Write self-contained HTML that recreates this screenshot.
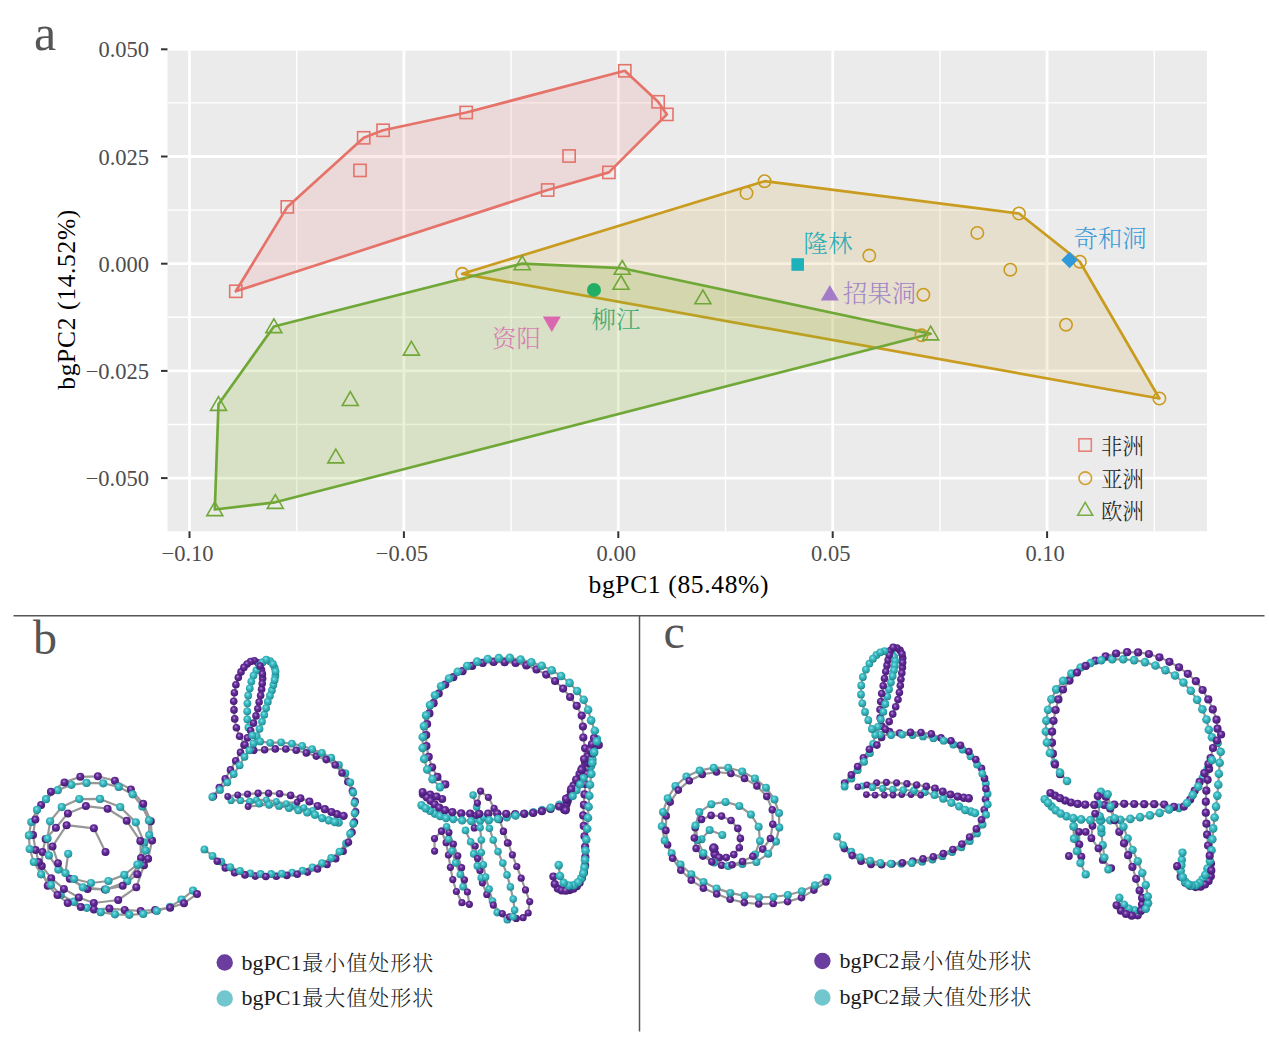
<!DOCTYPE html>
<html><head><meta charset="utf-8"><title>bgPCA</title>
<style>html,body{margin:0;padding:0;background:#fff;}svg{display:block;}</style>
</head><body>
<svg width="1269" height="1041" viewBox="0 0 1269 1041">
<defs>
<clipPath id="pclip"><rect x="167.5" y="50.5" width="1039.5" height="480.8"/></clipPath>
<radialGradient id="gp" cx="0.45" cy="0.4" r="0.6" fx="0.42" fy="0.36"><stop offset="0" stop-color="#B98AD9"/><stop offset="0.4" stop-color="#632C98"/><stop offset="0.85" stop-color="#4F1F80"/><stop offset="1" stop-color="#3E1466"/></radialGradient>
<radialGradient id="gt" cx="0.45" cy="0.4" r="0.6" fx="0.42" fy="0.36"><stop offset="0" stop-color="#86E2E6"/><stop offset="0.4" stop-color="#3BBCC4"/><stop offset="0.85" stop-color="#279BA3"/><stop offset="1" stop-color="#17767E"/></radialGradient>
</defs>
<rect width="1269" height="1041" fill="#fff"/>
<rect x="167.5" y="50.5" width="1039.5" height="480.8" fill="#EBEBEB"/>
<g clip-path="url(#pclip)">
<line x1="296.7" x2="296.7" y1="50.5" y2="531.3" stroke="#fff" stroke-width="1.4"/>
<line x1="511.1" x2="511.1" y1="50.5" y2="531.3" stroke="#fff" stroke-width="1.4"/>
<line x1="725.5" x2="725.5" y1="50.5" y2="531.3" stroke="#fff" stroke-width="1.4"/>
<line x1="939.9" x2="939.9" y1="50.5" y2="531.3" stroke="#fff" stroke-width="1.4"/>
<line x1="1154.3" x2="1154.3" y1="50.5" y2="531.3" stroke="#fff" stroke-width="1.4"/>
<line y1="102.9" y2="102.9" x1="167.5" x2="1207.0" stroke="#fff" stroke-width="1.4"/>
<line y1="210.1" y2="210.1" x1="167.5" x2="1207.0" stroke="#fff" stroke-width="1.4"/>
<line y1="317.3" y2="317.3" x1="167.5" x2="1207.0" stroke="#fff" stroke-width="1.4"/>
<line y1="424.5" y2="424.5" x1="167.5" x2="1207.0" stroke="#fff" stroke-width="1.4"/>
<line x1="189.5" x2="189.5" y1="50.5" y2="531.3" stroke="#fff" stroke-width="2.8"/>
<line x1="403.9" x2="403.9" y1="50.5" y2="531.3" stroke="#fff" stroke-width="2.8"/>
<line x1="618.3" x2="618.3" y1="50.5" y2="531.3" stroke="#fff" stroke-width="2.8"/>
<line x1="832.7" x2="832.7" y1="50.5" y2="531.3" stroke="#fff" stroke-width="2.8"/>
<line x1="1047.1" x2="1047.1" y1="50.5" y2="531.3" stroke="#fff" stroke-width="2.8"/>
<line y1="49.3" y2="49.3" x1="167.5" x2="1207.0" stroke="#fff" stroke-width="2.8"/>
<line y1="156.5" y2="156.5" x1="167.5" x2="1207.0" stroke="#fff" stroke-width="2.8"/>
<line y1="263.7" y2="263.7" x1="167.5" x2="1207.0" stroke="#fff" stroke-width="2.8"/>
<line y1="370.9" y2="370.9" x1="167.5" x2="1207.0" stroke="#fff" stroke-width="2.8"/>
<line y1="478.1" y2="478.1" x1="167.5" x2="1207.0" stroke="#fff" stroke-width="2.8"/>
<polygon points="235.8,291.3 287.3,206.9 363.7,137.8 383.1,130.3 466.2,112.5 624.8,70.8 658.1,101.8 666.9,114.4 608.9,172.4 547.7,190.0" fill="#E5736A" fill-opacity="0.15" stroke="none"/>
<polygon points="235.8,291.3 287.3,206.9 363.7,137.8 383.1,130.3 466.2,112.5 624.8,70.8 658.1,101.8 666.9,114.4 608.9,172.4 547.7,190.0" fill="none" stroke="#E5736A" stroke-width="2.7" stroke-linejoin="round"/>
<polygon points="462.2,273.8 764.6,181.2 1019.0,213.5 1079.9,261.7 1159.4,398.5" fill="#C99C1F" fill-opacity="0.15" stroke="none"/>
<polygon points="462.2,273.8 764.6,181.2 1019.0,213.5 1079.9,261.7 1159.4,398.5" fill="none" stroke="#C99C1F" stroke-width="2.7" stroke-linejoin="round"/>
<polygon points="214.8,509.5 218.5,404.3 273.9,326.5 522.2,263.6 622.2,268.2 930.7,333.8 275.3,502.3" fill="#8CB42D" fill-opacity="0.2" stroke="none"/>
<polygon points="214.8,509.5 218.5,404.3 273.9,326.5 522.2,263.6 622.2,268.2 930.7,333.8 275.3,502.3" fill="none" stroke="#70A838" stroke-width="2.7" stroke-linejoin="round"/>
<rect x="229.7" y="285.2" width="12.2" height="12.2" fill="none" stroke="#E5736A" stroke-width="1.6"/>
<rect x="281.2" y="200.8" width="12.2" height="12.2" fill="none" stroke="#E5736A" stroke-width="1.6"/>
<rect x="357.6" y="131.7" width="12.2" height="12.2" fill="none" stroke="#E5736A" stroke-width="1.6"/>
<rect x="377.0" y="124.2" width="12.2" height="12.2" fill="none" stroke="#E5736A" stroke-width="1.6"/>
<rect x="353.9" y="164.3" width="12.2" height="12.2" fill="none" stroke="#E5736A" stroke-width="1.6"/>
<rect x="460.1" y="106.4" width="12.2" height="12.2" fill="none" stroke="#E5736A" stroke-width="1.6"/>
<rect x="618.7" y="64.7" width="12.2" height="12.2" fill="none" stroke="#E5736A" stroke-width="1.6"/>
<rect x="652.0" y="95.7" width="12.2" height="12.2" fill="none" stroke="#E5736A" stroke-width="1.6"/>
<rect x="660.8" y="108.3" width="12.2" height="12.2" fill="none" stroke="#E5736A" stroke-width="1.6"/>
<rect x="563.0" y="149.9" width="12.2" height="12.2" fill="none" stroke="#E5736A" stroke-width="1.6"/>
<rect x="602.8" y="166.3" width="12.2" height="12.2" fill="none" stroke="#E5736A" stroke-width="1.6"/>
<rect x="541.6" y="183.9" width="12.2" height="12.2" fill="none" stroke="#E5736A" stroke-width="1.6"/>
<circle cx="462.2" cy="273.8" r="6.2" fill="none" stroke="#C99C1F" stroke-width="1.6"/>
<circle cx="746.5" cy="193.1" r="6.2" fill="none" stroke="#C99C1F" stroke-width="1.6"/>
<circle cx="764.6" cy="181.2" r="6.2" fill="none" stroke="#C99C1F" stroke-width="1.6"/>
<circle cx="869.3" cy="255.6" r="6.2" fill="none" stroke="#C99C1F" stroke-width="1.6"/>
<circle cx="977.3" cy="232.9" r="6.2" fill="none" stroke="#C99C1F" stroke-width="1.6"/>
<circle cx="1019.0" cy="213.5" r="6.2" fill="none" stroke="#C99C1F" stroke-width="1.6"/>
<circle cx="1010.3" cy="269.7" r="6.2" fill="none" stroke="#C99C1F" stroke-width="1.6"/>
<circle cx="1079.9" cy="261.7" r="6.2" fill="none" stroke="#C99C1F" stroke-width="1.6"/>
<circle cx="1066.0" cy="324.7" r="6.2" fill="none" stroke="#C99C1F" stroke-width="1.6"/>
<circle cx="1159.4" cy="398.5" r="6.2" fill="none" stroke="#C99C1F" stroke-width="1.6"/>
<circle cx="923.4" cy="294.7" r="6.2" fill="none" stroke="#C99C1F" stroke-width="1.6"/>
<circle cx="921.5" cy="335.3" r="6.2" fill="none" stroke="#C99C1F" stroke-width="1.6"/>
<polygon points="214.8,501.8 222.8,515.6 206.8,515.6" fill="none" stroke="#70A838" stroke-width="1.6" stroke-linejoin="miter"/>
<polygon points="218.5,396.6 226.5,410.4 210.5,410.4" fill="none" stroke="#70A838" stroke-width="1.6" stroke-linejoin="miter"/>
<polygon points="273.9,318.8 281.9,332.6 265.9,332.6" fill="none" stroke="#70A838" stroke-width="1.6" stroke-linejoin="miter"/>
<polygon points="522.2,255.9 530.2,269.7 514.2,269.7" fill="none" stroke="#70A838" stroke-width="1.6" stroke-linejoin="miter"/>
<polygon points="622.2,260.5 630.2,274.3 614.2,274.3" fill="none" stroke="#70A838" stroke-width="1.6" stroke-linejoin="miter"/>
<polygon points="621.0,275.5 629.0,289.3 613.0,289.3" fill="none" stroke="#70A838" stroke-width="1.6" stroke-linejoin="miter"/>
<polygon points="702.9,290.0 710.9,303.8 694.9,303.8" fill="none" stroke="#70A838" stroke-width="1.6" stroke-linejoin="miter"/>
<polygon points="930.7,326.1 938.7,339.9 922.7,339.9" fill="none" stroke="#70A838" stroke-width="1.6" stroke-linejoin="miter"/>
<polygon points="275.3,494.6 283.3,508.4 267.3,508.4" fill="none" stroke="#70A838" stroke-width="1.6" stroke-linejoin="miter"/>
<polygon points="411.4,341.3 419.4,355.1 403.4,355.1" fill="none" stroke="#70A838" stroke-width="1.6" stroke-linejoin="miter"/>
<polygon points="350.3,391.7 358.3,405.5 342.3,405.5" fill="none" stroke="#70A838" stroke-width="1.6" stroke-linejoin="miter"/>
<polygon points="335.8,449.1 343.8,462.9 327.8,462.9" fill="none" stroke="#70A838" stroke-width="1.6" stroke-linejoin="miter"/>
<rect x="791.4" y="258.2" width="12.6" height="12.6" fill="#1DB1BA"/>
<polygon points="829.8,284.9 838.8,300.5 820.8,300.5" fill="#A47BC9"/>
<polygon points="1069.6,251.8 1077.8,260.0 1069.6,268.2 1061.4,260.0" fill="#2F99D9"/>
<circle cx="594" cy="289.9" r="7" fill="#22AE64"/>
<polygon points="551.8,332.0 560.8,316.4 542.8,316.4" fill="#DA68AE"/>
</g>
<text x="803.5" y="251.5" font-family="Liberation Serif, Noto Serif CJK SC, serif" font-weight="300" font-size="24.4" fill="#2AADB6">隆林</text>
<text x="843" y="301.5" font-family="Liberation Serif, Noto Serif CJK SC, serif" font-weight="300" font-size="24.4" fill="#A384C6">招果洞</text>
<text x="1073.5" y="246.5" font-family="Liberation Serif, Noto Serif CJK SC, serif" font-weight="300" font-size="24.4" fill="#3A9BD8">奇和洞</text>
<text x="591.5" y="328" font-family="Liberation Serif, Noto Serif CJK SC, serif" font-weight="300" font-size="24.4" fill="#3DAA72">柳江</text>
<text x="492" y="347" font-family="Liberation Serif, Noto Serif CJK SC, serif" font-weight="300" font-size="24.4" fill="#D77DB4">资阳</text>
<rect x="1078.9" y="438.8" width="12.4" height="12.4" fill="none" stroke="#E8807A" stroke-width="1.6"/>
<circle cx="1085.3" cy="478.2" r="6.3" fill="none" stroke="#D4A035" stroke-width="1.6"/>
<polygon points="1085.2,502.3 1092.7,515.3 1077.7,515.3" fill="none" stroke="#79AE45" stroke-width="1.6" stroke-linejoin="miter"/>
<text x="1101" y="453.5" font-family="Liberation Serif, Noto Serif CJK SC, serif" font-weight="300" font-size="21.4" fill="#222">非洲</text>
<text x="1101" y="486.5" font-family="Liberation Serif, Noto Serif CJK SC, serif" font-weight="300" font-size="21.4" fill="#222">亚洲</text>
<text x="1101" y="518.5" font-family="Liberation Serif, Noto Serif CJK SC, serif" font-weight="300" font-size="21.4" fill="#222">欧洲</text>
<line x1="161" x2="167.5" y1="49.3" y2="49.3" stroke="#333" stroke-width="2"/>
<line x1="161" x2="167.5" y1="156.5" y2="156.5" stroke="#333" stroke-width="2"/>
<line x1="161" x2="167.5" y1="263.7" y2="263.7" stroke="#333" stroke-width="2"/>
<line x1="161" x2="167.5" y1="370.9" y2="370.9" stroke="#333" stroke-width="2"/>
<line x1="161" x2="167.5" y1="478.1" y2="478.1" stroke="#333" stroke-width="2"/>
<line y1="531.3" y2="538" x1="189.5" x2="189.5" stroke="#333" stroke-width="2"/>
<line y1="531.3" y2="538" x1="403.9" x2="403.9" stroke="#333" stroke-width="2"/>
<line y1="531.3" y2="538" x1="618.3" x2="618.3" stroke="#333" stroke-width="2"/>
<line y1="531.3" y2="538" x1="832.7" x2="832.7" stroke="#333" stroke-width="2"/>
<line y1="531.3" y2="538" x1="1047.1" x2="1047.1" stroke="#333" stroke-width="2"/>
<text x="149" y="57.3" font-family="Liberation Serif, serif" fill="#4D4D4D" font-size="22.5" text-anchor="end">0.050</text>
<text x="149" y="164.5" font-family="Liberation Serif, serif" fill="#4D4D4D" font-size="22.5" text-anchor="end">0.025</text>
<text x="149" y="271.7" font-family="Liberation Serif, serif" fill="#4D4D4D" font-size="22.5" text-anchor="end">0.000</text>
<text x="149" y="378.9" font-family="Liberation Serif, serif" fill="#4D4D4D" font-size="22.5" text-anchor="end">−0.025</text>
<text x="149" y="486.1" font-family="Liberation Serif, serif" fill="#4D4D4D" font-size="22.5" text-anchor="end">−0.050</text>
<text x="187.5" y="561" font-family="Liberation Serif, serif" fill="#4D4D4D" font-size="22.5" text-anchor="middle">−0.10</text>
<text x="401.9" y="561" font-family="Liberation Serif, serif" fill="#4D4D4D" font-size="22.5" text-anchor="middle">−0.05</text>
<text x="616.3" y="561" font-family="Liberation Serif, serif" fill="#4D4D4D" font-size="22.5" text-anchor="middle">0.00</text>
<text x="830.7" y="561" font-family="Liberation Serif, serif" fill="#4D4D4D" font-size="22.5" text-anchor="middle">0.05</text>
<text x="1045.1" y="561" font-family="Liberation Serif, serif" fill="#4D4D4D" font-size="22.5" text-anchor="middle">0.10</text>
<text x="588.5" y="593" font-family="Liberation Serif, serif" font-size="25.5" fill="#000" textLength="180" lengthAdjust="spacing">bgPC1 (85.48%)</text>
<text transform="translate(75.3,389.7) rotate(-90)" x="0" y="0" font-family="Liberation Serif, serif" font-size="25.5" fill="#000" textLength="180" lengthAdjust="spacing">bgPC2 (14.52%)</text>
<text x="34" y="49.5" font-family="Liberation Serif, serif" font-size="50" fill="#555">a</text>
<line x1="13.5" y1="615.8" x2="1264.5" y2="615.8" stroke="#555" stroke-width="1.5"/>
<line x1="639.5" y1="615.8" x2="639.5" y2="1031.5" stroke="#555" stroke-width="1.5"/>
<text x="33" y="653.5" font-family="Liberation Serif, serif" font-size="48" fill="#555">b</text>
<text x="663.5" y="647.5" font-family="Liberation Serif, serif" font-size="48" fill="#555">c</text>
<g fill="none" stroke="#979797" stroke-width="2.2" stroke-linejoin="round">
<polyline points="193.0,890.6 181.5,899.6 170.1,906.9 156.7,911.0 143.2,914.0 129.3,914.8 114.9,914.3 100.7,912.2 86.8,907.8 73.8,901.7 60.7,894.7 50.9,884.9 41.1,874.3 33.8,862.0 29.7,849.0 28.9,835.4 31.3,822.0 37.0,809.8 46.0,799.2 57.8,790.2 71.3,784.8 86.5,782.9 103.2,783.3 118.7,786.9 132.6,794.3 142.3,806.5 148.9,820.4 149.2,835.1 145.6,850.6 139.1,864.5 127.2,881.2 106.0,889.6 82.8,887.3 58.3,869.6 48.9,855.4 47.5,838.5 50.1,821.3 61.7,807.1 79.3,799.1 100.0,798.9 120.2,807.1 135.8,822.3 144.0,842.4 137.4,864.5 124.3,874.9 108.4,881.0 91.0,883.0 74.1,879.0 65.4,873.1 68.2,853.8"/>
<polyline points="197.0,893.9 184.0,903.3 170.1,907.8 155.1,909.9 140.7,911.0 124.7,909.9 109.4,908.6 93.9,909.4 80.8,907.0 67.7,903.0 57.5,895.0 47.7,885.7 38.7,862.0 35.6,850.1 33.0,835.1 35.4,819.6 41.1,804.9 50.9,791.8 64.5,782.4 80.3,776.8 97.9,776.3 114.9,780.7 130.9,789.4 143.2,803.8 150.8,821.2 152.1,840.5 148.1,858.8 144.0,865.3 136.3,887.3 118.2,900.0 93.8,903.0 78.8,897.5 63.9,888.9 51.2,878.2 41.8,866.0 42.5,852.0 45.6,838.9 55.9,827.8 67.9,813.4 85.9,806.1 107.6,808.7 126.7,820.8 140.3,840.9 141.0,858.0 137.3,874.2 122.7,885.8 105.0,889.5 87.5,889.0 69.8,878.8 58.0,863.2 52.5,846.4 66.6,825.2 93.9,828.3 105.5,852.0"/>
<polyline points="212.3,797.0 220.0,789.9 227.3,782.3 233.7,774.0 239.6,765.3 244.5,756.8 249.3,750.3 253.4,743.5 256.7,736.2 259.5,728.8 262.0,721.6 264.2,714.7 266.1,708.1 267.8,701.7 269.9,695.7 271.9,690.2 273.4,684.8 274.6,680.0 275.4,675.7 275.5,671.5 274.6,667.6 272.9,664.0 270.1,661.2 266.3,659.6 262.6,662.2 259.4,665.9 256.4,670.3 253.5,675.6 251.3,681.6 249.8,688.3 248.2,695.5 247.4,703.3 247.2,711.3 247.3,719.3 248.4,727.5 252.4,735.4 260.1,741.4 270.2,742.8 281.1,742.3 291.9,743.6 302.1,745.9 312.1,749.2 321.9,752.9 331.2,757.7 338.9,764.8 345.4,773.1 350.3,782.3 353.2,792.4 354.5,802.8 354.6,813.3 353.2,823.7 350.1,833.7 346.0,843.4 339.5,851.6 331.2,858.0 322.0,863.2 312.5,867.4 302.5,870.6 292.2,872.7 281.7,873.7 271.2,874.0 260.7,874.0 250.3,873.3 240.0,870.9 230.3,867.1 221.3,861.6 212.5,855.9 204.4,849.4"/>
<polyline points="213.4,796.3 219.3,787.6 225.2,778.9 230.5,769.9 235.7,760.8 240.5,752.4 244.0,745.1 247.4,737.9 250.6,730.5 253.5,723.1 256.0,715.9 257.8,708.8 259.1,702.0 260.6,695.5 261.6,689.3 262.2,683.5 262.6,678.5 262.4,673.9 261.5,669.7 260.1,666.0 257.9,662.7 254.4,660.7 250.6,661.5 247.1,664.0 243.9,667.4 241.0,671.9 238.3,677.6 235.9,684.7 234.4,692.7 233.7,701.2 234.0,709.9 234.7,718.9 236.4,727.7 239.6,736.3 245.0,744.7 253.7,750.2 264.6,749.8 275.3,748.9 285.8,749.0 296.2,750.3 306.3,752.9 316.3,756.1 326.2,759.6 335.2,765.0 342.0,773.0 347.8,781.7 352.4,791.1 355.1,801.3 355.6,811.7 354.4,822.1 352.0,832.3 348.4,842.2 343.1,851.2 335.7,858.7 327.0,864.5 317.5,869.0 307.5,872.1 297.2,874.2 286.8,875.4 276.3,876.3 265.8,876.5 255.3,876.1 244.9,874.9 234.6,872.7 225.3,867.9 217.3,861.2"/>
<polyline points="256.4,799.9 266.3,799.9 276.3,801.5 286.2,803.7 295.0,805.4 303.8,807.6 312.7,810.3"/>
<polyline points="248.1,806.5 297.2,802.1"/>
<polyline points="227.7,796.5 237.7,794.9 247.6,794.1 258.1,793.2 268.5,793.2 279.6,793.8 290.6,795.4 300.5,798.2 309.4,801.5 317.6,805.9 324.8,809.2 331.4,812.0 337.0,814.2 343.6,815.9"/>
<polyline points="231.0,800.4 240.4,800.4 249.8,801.5 259.2,803.7 269.1,804.8 279.0,805.9 289.0,808.1 298.3,810.3 307.2,812.5 314.9,814.8 322.1,818.1 328.7,820.3 334.7,821.9 338.6,822.5"/>
<polyline points="445.3,784.4 437.4,776.9 432.1,767.3 428.7,756.8 426.4,746.1 426.2,735.1 427.1,724.1 429.4,713.4 433.6,703.2 438.7,693.5 445.2,684.6 453.3,677.2 462.5,671.2 472.1,665.9 482.7,662.9 493.6,661.9 504.6,662.2 515.6,663.0 526.3,665.4 536.5,669.4 546.2,674.6 555.1,681.0 563.1,688.6 570.1,697.0 576.7,705.8 581.7,715.6 582.9,726.5 583.3,737.5 585.1,748.3 584.1,759.1 581.3,769.8 576.3,779.5 571.1,789.2 566.0,798.9 564.2,809.7"/>
<polyline points="598.8,745.1 592.5,753.5 588.8,763.3 586.9,773.6 585.4,784.0 584.5,794.4 583.9,804.9 583.2,815.4 583.8,825.9 584.5,836.3 585.1,846.8 585.3,857.2 585.1,865.6 583.9,872.6 581.9,878.1 579.6,882.7 576.8,886.2 573.4,888.7 569.7,890.1 565.7,890.7 561.7,890.4 557.8,888.6 554.7,884.0 553.4,876.6"/>
<polyline points="440.0,787.1 432.5,779.1 427.2,769.5 424.2,758.9 422.6,748.0 422.7,737.0 423.9,726.1 426.1,715.4 430.0,705.1 435.0,695.3 441.1,686.2 449.0,678.5 457.7,671.8 467.1,666.0 477.1,661.6 487.8,659.0 498.8,658.1 509.8,657.9 520.6,659.5 531.3,662.2 541.7,665.7 551.7,670.3 561.1,676.0 569.6,682.9 577.1,691.0 583.7,699.8 588.1,709.8 591.1,720.4 594.8,730.7 596.8,741.4 594.2,752.1 592.3,762.9 591.3,773.9 590.0,784.8 589.3,795.8 588.6,806.7 588.0,817.7 587.2,828.7 586.3,839.6 585.5,850.6 585.0,859.9 584.4,867.4 583.3,873.4 581.2,878.4 578.1,882.3 574.0,885.1 568.9,885.6 563.7,882.8 560.0,876.0 558.7,865.1"/>
<polyline points="594.0,738.0 592.0,744.2 590.0,750.4 587.6,756.4 585.1,762.4 582.4,768.3 579.5,774.1 576.5,779.9 573.5,785.7 570.8,791.6 568.4,797.6 566.6,803.9 565.6,810.3"/>
<polyline points="597.0,739.0 595.5,745.8 594.0,752.7 592.5,759.5 590.9,766.3 587.6,772.4 583.5,778.1 580.2,784.3 576.5,790.2 572.7,796.1"/>
<polyline points="422.6,792.0 430.2,794.5 436.5,796.4 442.2,798.9"/>
<polyline points="567.6,801.4 559.3,804.8 550.7,807.6 542.1,810.0 533.3,812.3 524.5,813.8 515.6,815.6 506.8,817.3 498.0,819.0 489.1,820.1 480.1,820.7 471.1,821.0 462.1,820.4 453.2,819.1 446.0,818.1 440.0,816.0 434.7,813.5 430.0,810.8 425.6,808.2 421.5,805.3"/>
<polyline points="567.6,800.2 565.8,809.0 559.2,806.5 550.6,808.9 541.9,811.2 533.1,813.0 524.1,813.8 515.2,814.0 506.2,813.8 497.2,813.4 488.2,813.7 479.2,813.8 470.2,813.7 461.2,813.4 452.3,812.2 445.0,810.2 439.2,807.7 434.6,804.4 430.6,800.8 426.9,797.4 423.0,794.3"/>
<polyline points="474.3,827.9 475.7,815.5 477.4,803.1 480.6,791.1 488.4,797.3 494.1,808.3 499.6,819.6 503.5,831.4 508.2,843.0 512.4,854.8 516.8,866.5 521.2,878.2 525.5,889.9 529.7,901.6 528.2,913.0 523.1,917.7 516.3,918.4 509.5,916.8 502.3,913.6 493.3,905.1 486.8,894.4 482.4,882.8 479.9,870.5 477.6,858.3 475.2,846.0"/>
<polyline points="473.1,795.1 476.6,806.9 483.6,817.2 489.4,828.2 493.2,840.0 498.0,851.6 502.8,863.1 507.0,874.9 510.4,886.9 513.2,899.1 514.6,910.1 513.1,916.8 507.3,919.7 497.2,912.6 492.5,901.1 489.1,889.1 485.6,877.1 483.3,864.8 481.2,852.5 481.3,840.0 480.1,827.6"/>
<polyline points="441.5,831.1 434.5,838.6 434.6,851.1"/>
<polyline points="441.5,831.1 446.1,842.7 448.4,855.0 450.4,867.3 452.8,879.6 456.4,891.5 461.9,902.7 469.4,904.3 467.4,892.0 464.5,879.8 461.6,867.7 457.8,855.8 453.4,844.1 448.9,832.4"/>
<polyline points="446.6,826.7 448.5,839.1 452.0,851.0 455.6,862.9 460.3,874.5 463.0,886.7"/>
<polyline points="465.5,830.4 470.6,841.8 473.7,853.9 477.3,865.9 481.2,877.7"/>
<polyline points="503.3,831.1 507.4,842.9"/>
<polyline points="827.4,877.8 814.9,885.2 801.8,891.3 787.8,895.0 773.4,896.9 758.9,897.2 744.5,895.8 730.3,892.9 716.5,888.4 703.5,882.0 691.3,874.2 680.5,864.5 671.6,853.2 664.7,840.4 661.8,826.3 663.0,811.9 667.7,798.2 675.4,786.0 686.4,776.6 699.6,770.6 713.7,767.7 728.2,767.8 742.2,771.5 754.9,778.4 766.0,787.7 774.5,799.4 779.0,813.1 779.3,827.5 776.0,841.6 768.2,853.8 756.4,862.0 742.4,864.0 728.1,866.1 714.1,862.6 703.4,853.1 697.5,839.9 695.5,825.6 699.3,812.1 711.3,804.2 725.5,801.9 739.3,805.9 750.9,814.5 758.6,826.7 760.0,841.0 755.0,854.5"/>
<polyline points="701.5,839.2 709.6,830.0 722.3,835.0"/>
<polyline points="825.9,882.0 813.9,890.1 801.5,897.6 787.6,901.6 773.2,903.5 758.7,904.0 744.3,902.6 730.2,899.2 716.7,894.0 703.4,888.2 691.3,880.3 680.8,870.3 672.6,858.3 667.6,844.8 665.9,830.4 666.2,815.9 670.2,802.1 678.3,790.1 689.3,780.7 702.3,774.4 716.5,772.0 730.9,773.5 744.5,778.4 756.9,785.9 766.8,796.4 772.3,809.8 772.8,824.2 770.4,838.5 762.8,849.1 752.8,856.3 742.5,861.5 732.1,864.8 721.6,865.2 711.8,861.8 702.9,856.1 696.1,848.4 694.3,838.0 695.2,827.7 701.5,819.4 711.1,815.4 721.5,816.1 731.0,820.5 737.8,828.4 740.4,838.4 739.3,847.8 733.8,854.6 726.2,857.6 719.1,857.6 714.9,854.1 713.8,848.2"/>
<polyline points="844.6,786.5 851.4,778.5 857.7,770.1 864.1,761.8 870.0,753.1 873.1,743.8 875.2,734.8 877.9,726.8 880.8,719.4 883.3,711.8 885.3,704.0 887.2,696.4 889.0,689.2 890.9,682.3 892.6,676.0 893.9,670.3 894.7,665.4 895.2,661.0 894.2,657.0 891.8,653.8 888.4,651.7 884.5,651.1 880.3,652.3 876.4,655.0 872.9,658.7 869.4,663.6 865.9,669.6 862.9,677.0 861.2,685.4 861.0,694.4 862.3,703.3 865.0,711.9 868.3,720.2 871.9,729.0 880.2,734.6 891.1,735.1 902.1,734.6 912.6,735.1 923.0,736.4 933.4,738.2 943.6,740.7 953.3,744.5 962.5,749.6 970.5,756.3 977.1,764.5 982.3,773.6 985.8,783.5 987.6,793.8 987.7,804.3 986.1,814.7 982.6,824.5 977.0,833.4 969.8,841.1 961.4,847.3 952.1,852.1 942.4,856.2 932.5,859.5 922.2,861.7 911.8,863.1 901.3,863.7 890.8,863.7 880.4,862.8 870.1,860.7 860.2,857.2 851.3,851.7 843.1,845.1 837.1,836.5"/>
<polyline points="844.6,783.0 851.3,774.9 857.6,766.5 863.4,757.7 869.4,749.2 876.9,745.1 881.6,737.5 885.4,729.3 889.2,721.6 892.7,714.1 895.7,706.8 898.0,699.6 899.4,692.5 900.3,685.6 900.9,679.2 901.8,673.0 902.4,667.5 902.6,662.6 902.7,658.0 902.0,653.9 900.1,650.4 897.0,648.0 893.1,647.4 890.5,650.6 889.2,655.1 888.1,660.0 887.0,665.4 885.8,671.6 884.5,678.5 883.2,685.8 881.7,693.6 880.7,701.5 880.0,709.5 880.1,717.7 882.0,726.3 889.5,731.6 899.7,733.1 910.5,732.4 921.0,732.5 931.3,733.9 941.0,737.9 951.0,740.8 960.5,745.3 968.9,751.6 975.8,759.6 981.5,768.3 984.5,778.4 985.9,788.8 985.5,799.2 984.2,809.7 981.4,819.8 976.3,828.9 969.6,837.0 961.9,844.1 952.9,849.5 943.3,853.6 933.3,856.8 923.0,858.9 912.7,861.1 902.4,862.8 891.9,863.9 881.5,864.8 871.0,864.4 861.0,861.2 852.2,855.6 844.4,848.6"/>
<polyline points="866.4,794.6 875.1,795.1 884.3,795.1 893.0,795.1 901.7,794.6 911.0,794.6 920.7,795.1"/>
<polyline points="857.7,786.9 866.9,784.9 876.6,782.8 886.4,782.3 896.6,782.8 906.9,783.8 916.6,784.9 926.3,786.4 935.0,788.4 942.7,791.5 950.4,794.6 957.6,796.6 963.7,797.7 968.8,798.2"/>
<polyline points="862.3,785.9 872.5,787.4 882.8,788.4 893.0,789.5 903.3,790.0 914.0,790.5 924.8,792.0 934.5,795.1 943.2,798.7 951.4,802.8 959.1,806.4 965.2,810.0 970.9,811.5 975.0,813.0"/>
<polyline points="1067.0,781.0 1060.0,772.6 1054.5,763.0 1049.9,753.0 1046.9,742.5 1045.8,731.5 1046.3,720.6 1048.1,709.7 1051.4,699.2 1056.2,689.4 1063.1,680.8 1071.4,673.6 1080.6,667.5 1090.6,663.0 1101.2,660.3 1112.2,659.3 1123.2,659.3 1134.1,660.1 1145.0,662.1 1155.4,665.5 1165.4,670.1 1175.0,675.5 1183.4,682.5 1190.8,690.7 1197.1,699.7 1202.4,709.3 1206.5,719.5 1208.8,729.8 1211.9,737.2 1217.7,742.7 1220.7,751.8 1219.7,762.7 1218.9,773.7 1218.3,784.7 1217.3,795.6 1216.0,806.6 1214.6,817.5 1213.2,828.4 1212.3,839.3 1211.5,850.3 1209.9,861.0 1207.5,868.6 1205.3,874.7 1202.6,879.4 1199.5,882.8 1196.0,885.1 1192.1,885.8 1188.4,884.4 1185.1,881.6 1182.6,877.3 1180.7,870.7 1181.8,859.8"/>
<polyline points="1060.1,774.2 1055.0,764.4 1052.9,753.7 1052.0,742.7 1052.1,731.7 1053.5,720.8 1055.6,710.0 1058.4,699.4 1063.0,689.5 1069.5,680.6 1077.0,672.5 1085.7,665.9 1095.4,660.7 1105.6,656.4 1116.1,653.5 1127.1,652.2 1138.1,652.4 1148.9,654.0 1159.4,657.3 1169.4,661.8 1179.0,667.3 1187.8,673.8 1195.9,681.2 1202.6,690.0 1208.3,699.4 1212.8,709.4 1216.5,719.7 1217.5,728.7 1221.1,734.5 1216.9,740.5 1213.0,748.0 1210.6,758.0 1209.1,768.9 1207.6,779.8 1206.3,790.7 1205.8,801.7 1205.8,812.7 1206.4,823.7 1207.1,834.7 1208.1,845.6 1209.7,855.7 1211.0,863.5 1211.3,870.4 1210.8,876.3 1208.6,881.1 1205.0,884.5 1200.6,886.7 1195.6,887.1 1190.4,886.0 1185.3,882.7 1180.6,876.7 1177.5,866.7"/>
<polyline points="1208.4,764.0 1204.3,773.1 1199.6,781.9 1194.7,790.7 1190.2,799.6 1183.9,806.6 1173.9,806.8 1164.2,804.6 1154.2,804.2 1144.2,804.2 1134.2,804.0 1124.2,803.8 1114.3,804.5 1104.3,805.0 1094.3,804.9 1085.2,804.7 1077.6,803.9 1070.9,802.5 1065.1,800.6 1059.9,798.2 1055.0,795.6 1050.4,793.0"/>
<polyline points="1212.0,760.0 1207.6,769.0 1202.8,777.8 1198.2,786.6 1192.7,794.9 1186.9,803.0 1178.9,807.9 1169.0,809.4 1159.6,812.9 1149.9,815.4 1140.1,817.1 1130.3,818.9 1120.3,819.9 1110.3,820.3 1100.3,820.4 1090.3,820.1 1081.1,819.4 1073.3,818.1 1066.4,816.2 1060.6,813.5 1055.7,810.3 1051.7,806.5 1048.1,802.9 1044.7,799.3"/>
<polyline points="1101.2,828.4 1099.7,816.2 1098.4,804.0 1100.9,791.7 1107.7,794.3 1110.5,806.5 1114.6,818.1 1123.5,826.7 1127.7,838.4 1132.6,849.9 1137.8,861.3 1142.3,873.0 1145.8,885.0 1147.8,896.5 1148.1,903.3 1145.9,908.8 1140.7,911.1 1134.7,910.2 1129.0,908.6 1124.1,904.6 1119.3,897.8"/>
<polyline points="1097.8,796.1 1105.8,796.8 1110.2,808.5 1114.6,820.2 1119.3,831.8 1124.0,843.3 1128.1,855.2 1132.4,866.9 1136.1,878.8 1139.6,890.5 1142.1,897.9 1142.0,904.5 1141.0,910.7 1137.7,915.3 1131.7,915.7 1126.0,914.0 1120.9,910.7 1116.6,905.3"/>
<polyline points="1073.6,826.4 1073.9,838.7"/>
<polyline points="1073.6,826.4 1075.1,838.8 1076.8,851.2 1080.4,863.1 1085.7,874.4"/>
<polyline points="1079.0,831.8 1079.4,844.3 1081.4,856.6"/>
<polyline points="1101.2,820.3 1101.5,832.8 1102.7,845.2 1104.4,857.6 1108.3,869.5"/>
<polyline points="1095.1,813.6 1092.5,825.8 1091.4,838.2 1098.4,848.3 1102.8,859.9 1111.2,868.1"/>
<polyline points="1182.5,852.6 1181.5,865.1 1182.8,877.3 1191.6,885.7"/>
</g>
<circle cx="516.8" cy="866.5" r="3.60" fill="url(#gp)"/>
<circle cx="1181.8" cy="859.8" r="4.30" fill="url(#gt)"/>
<circle cx="488.4" cy="797.3" r="3.60" fill="url(#gp)"/>
<circle cx="902.4" cy="667.5" r="3.80" fill="url(#gp)"/>
<circle cx="1137.7" cy="915.3" r="4.10" fill="url(#gp)"/>
<circle cx="1070.9" cy="802.5" r="4.10" fill="url(#gp)"/>
<circle cx="502.8" cy="863.1" r="3.80" fill="url(#gt)"/>
<circle cx="1105.6" cy="656.4" r="4.10" fill="url(#gp)"/>
<circle cx="906.9" cy="783.8" r="3.70" fill="url(#gp)"/>
<circle cx="233.7" cy="701.2" r="3.80" fill="url(#gp)"/>
<circle cx="1134.7" cy="910.2" r="4.20" fill="url(#gt)"/>
<circle cx="542.1" cy="810.0" r="4.20" fill="url(#gt)"/>
<circle cx="1155.4" cy="665.5" r="4.30" fill="url(#gt)"/>
<circle cx="515.6" cy="663.0" r="4.10" fill="url(#gp)"/>
<circle cx="1120.3" cy="819.9" r="4.30" fill="url(#gt)"/>
<circle cx="85.9" cy="806.1" r="4.00" fill="url(#gp)"/>
<circle cx="1220.7" cy="751.8" r="4.30" fill="url(#gt)"/>
<circle cx="474.3" cy="827.9" r="3.60" fill="url(#gp)"/>
<circle cx="317.6" cy="805.9" r="4.00" fill="url(#gp)"/>
<circle cx="521.2" cy="878.2" r="3.60" fill="url(#gp)"/>
<circle cx="1124.2" cy="803.8" r="4.10" fill="url(#gp)"/>
<circle cx="257.9" cy="662.7" r="3.80" fill="url(#gp)"/>
<circle cx="725.5" cy="801.9" r="4.00" fill="url(#gt)"/>
<circle cx="750.9" cy="814.5" r="4.00" fill="url(#gt)"/>
<circle cx="231.0" cy="800.4" r="3.60" fill="url(#gt)"/>
<circle cx="312.1" cy="749.2" r="3.90" fill="url(#gt)"/>
<circle cx="1104.3" cy="805.0" r="4.10" fill="url(#gp)"/>
<circle cx="801.5" cy="897.6" r="3.80" fill="url(#gp)"/>
<circle cx="1085.7" cy="874.4" r="4.10" fill="url(#gt)"/>
<circle cx="264.2" cy="714.7" r="3.90" fill="url(#gt)"/>
<circle cx="844.6" cy="783.0" r="3.80" fill="url(#gp)"/>
<circle cx="1110.3" cy="820.3" r="4.30" fill="url(#gt)"/>
<circle cx="352.4" cy="791.1" r="3.80" fill="url(#gp)"/>
<circle cx="279.0" cy="805.9" r="3.90" fill="url(#gt)"/>
<circle cx="891.8" cy="653.8" r="3.90" fill="url(#gt)"/>
<circle cx="441.5" cy="831.1" r="3.60" fill="url(#gp)"/>
<circle cx="335.7" cy="858.7" r="3.80" fill="url(#gp)"/>
<circle cx="225.2" cy="778.9" r="3.80" fill="url(#gp)"/>
<circle cx="701.5" cy="839.2" r="4.00" fill="url(#gt)"/>
<circle cx="499.6" cy="819.6" r="3.60" fill="url(#gp)"/>
<circle cx="951.4" cy="802.8" r="4.10" fill="url(#gt)"/>
<circle cx="585.1" cy="748.3" r="4.10" fill="url(#gp)"/>
<circle cx="355.6" cy="811.7" r="3.80" fill="url(#gp)"/>
<circle cx="306.3" cy="752.9" r="3.80" fill="url(#gp)"/>
<circle cx="69.8" cy="878.8" r="4.00" fill="url(#gp)"/>
<circle cx="924.8" cy="792.0" r="3.90" fill="url(#gt)"/>
<circle cx="1069.5" cy="680.6" r="4.10" fill="url(#gp)"/>
<circle cx="463.0" cy="886.7" r="3.80" fill="url(#gt)"/>
<circle cx="675.4" cy="786.0" r="4.00" fill="url(#gt)"/>
<circle cx="573.5" cy="785.7" r="4.10" fill="url(#gp)"/>
<circle cx="779.3" cy="827.5" r="4.00" fill="url(#gt)"/>
<circle cx="902.7" cy="658.0" r="3.80" fill="url(#gp)"/>
<circle cx="1092.5" cy="825.8" r="3.90" fill="url(#gp)"/>
<circle cx="235.9" cy="684.7" r="3.80" fill="url(#gp)"/>
<circle cx="427.1" cy="724.1" r="4.10" fill="url(#gp)"/>
<circle cx="65.4" cy="873.1" r="4.10" fill="url(#gt)"/>
<circle cx="261.6" cy="689.3" r="3.80" fill="url(#gp)"/>
<circle cx="1178.9" cy="807.9" r="4.30" fill="url(#gt)"/>
<circle cx="346.0" cy="843.4" r="3.90" fill="url(#gt)"/>
<circle cx="1207.1" cy="834.7" r="4.10" fill="url(#gp)"/>
<circle cx="1095.4" cy="660.7" r="4.10" fill="url(#gp)"/>
<circle cx="285.8" cy="749.0" r="3.80" fill="url(#gp)"/>
<circle cx="863.4" cy="757.7" r="3.80" fill="url(#gp)"/>
<circle cx="492.5" cy="901.1" r="3.80" fill="url(#gt)"/>
<circle cx="465.5" cy="830.4" r="3.80" fill="url(#gt)"/>
<circle cx="142.3" cy="806.5" r="4.10" fill="url(#gt)"/>
<circle cx="450.4" cy="867.3" r="3.60" fill="url(#gp)"/>
<circle cx="568.4" cy="797.6" r="4.10" fill="url(#gp)"/>
<circle cx="716.5" cy="888.4" r="4.00" fill="url(#gt)"/>
<circle cx="497.2" cy="912.6" r="3.80" fill="url(#gt)"/>
<circle cx="1051.7" cy="806.5" r="4.30" fill="url(#gt)"/>
<circle cx="887.0" cy="665.4" r="3.80" fill="url(#gp)"/>
<circle cx="235.7" cy="760.8" r="3.80" fill="url(#gp)"/>
<circle cx="170.1" cy="906.9" r="4.10" fill="url(#gt)"/>
<circle cx="461.9" cy="902.7" r="3.60" fill="url(#gp)"/>
<circle cx="977.0" cy="833.4" r="3.90" fill="url(#gt)"/>
<circle cx="1205.8" cy="812.7" r="4.10" fill="url(#gp)"/>
<circle cx="1190.2" cy="799.6" r="4.10" fill="url(#gp)"/>
<circle cx="507.3" cy="919.7" r="3.80" fill="url(#gt)"/>
<circle cx="891.9" cy="863.9" r="3.80" fill="url(#gp)"/>
<circle cx="827.4" cy="877.8" r="4.00" fill="url(#gt)"/>
<circle cx="1066.4" cy="816.2" r="4.30" fill="url(#gt)"/>
<circle cx="528.2" cy="913.0" r="3.60" fill="url(#gp)"/>
<circle cx="1182.8" cy="877.3" r="4.10" fill="url(#gt)"/>
<circle cx="555.1" cy="681.0" r="4.10" fill="url(#gp)"/>
<circle cx="261.5" cy="669.7" r="3.80" fill="url(#gp)"/>
<circle cx="338.9" cy="764.8" r="3.90" fill="url(#gt)"/>
<circle cx="1101.5" cy="832.8" r="4.10" fill="url(#gt)"/>
<circle cx="253.7" cy="750.2" r="3.80" fill="url(#gp)"/>
<circle cx="114.9" cy="780.7" r="4.00" fill="url(#gp)"/>
<circle cx="1129.0" cy="908.6" r="4.20" fill="url(#gt)"/>
<circle cx="744.5" cy="895.8" r="4.00" fill="url(#gt)"/>
<circle cx="79.3" cy="799.1" r="4.10" fill="url(#gt)"/>
<circle cx="355.1" cy="801.3" r="3.80" fill="url(#gp)"/>
<circle cx="569.7" cy="890.1" r="4.10" fill="url(#gp)"/>
<circle cx="709.6" cy="830.0" r="4.00" fill="url(#gt)"/>
<circle cx="292.2" cy="872.7" r="3.90" fill="url(#gt)"/>
<circle cx="480.1" cy="820.7" r="4.20" fill="url(#gt)"/>
<circle cx="1134.2" cy="804.0" r="4.10" fill="url(#gp)"/>
<circle cx="506.8" cy="817.3" r="4.20" fill="url(#gt)"/>
<circle cx="247.6" cy="794.1" r="3.60" fill="url(#gp)"/>
<circle cx="453.4" cy="844.1" r="3.60" fill="url(#gp)"/>
<circle cx="861.0" cy="861.2" r="3.80" fill="url(#gp)"/>
<circle cx="144.0" cy="842.4" r="4.10" fill="url(#gt)"/>
<circle cx="583.3" cy="737.5" r="4.10" fill="url(#gp)"/>
<circle cx="787.6" cy="901.6" r="3.80" fill="url(#gp)"/>
<circle cx="587.6" cy="772.4" r="4.10" fill="url(#gt)"/>
<circle cx="331.2" cy="757.7" r="3.90" fill="url(#gt)"/>
<circle cx="587.6" cy="756.4" r="4.10" fill="url(#gp)"/>
<circle cx="494.1" cy="808.3" r="3.60" fill="url(#gp)"/>
<circle cx="885.8" cy="671.6" r="3.80" fill="url(#gp)"/>
<circle cx="481.3" cy="840.0" r="3.80" fill="url(#gt)"/>
<circle cx="225.3" cy="867.9" r="3.80" fill="url(#gp)"/>
<circle cx="576.5" cy="779.9" r="4.10" fill="url(#gp)"/>
<circle cx="882.8" cy="788.4" r="3.70" fill="url(#gt)"/>
<circle cx="582.9" cy="726.5" r="4.10" fill="url(#gp)"/>
<circle cx="1063.1" cy="680.8" r="4.30" fill="url(#gt)"/>
<circle cx="260.6" cy="695.5" r="3.80" fill="url(#gp)"/>
<circle cx="570.8" cy="791.6" r="4.10" fill="url(#gp)"/>
<circle cx="1081.1" cy="819.4" r="4.30" fill="url(#gt)"/>
<circle cx="328.7" cy="820.3" r="4.20" fill="url(#gt)"/>
<circle cx="911.0" cy="794.6" r="3.40" fill="url(#gp)"/>
<circle cx="423.0" cy="794.3" r="4.10" fill="url(#gp)"/>
<circle cx="899.7" cy="733.1" r="3.80" fill="url(#gp)"/>
<circle cx="1207.6" cy="769.0" r="4.30" fill="url(#gt)"/>
<circle cx="337.0" cy="814.2" r="4.20" fill="url(#gp)"/>
<circle cx="281.1" cy="742.3" r="3.90" fill="url(#gt)"/>
<circle cx="255.3" cy="876.1" r="3.80" fill="url(#gp)"/>
<circle cx="480.1" cy="827.6" r="3.80" fill="url(#gt)"/>
<circle cx="590.9" cy="766.3" r="4.10" fill="url(#gt)"/>
<circle cx="234.6" cy="872.7" r="3.80" fill="url(#gp)"/>
<circle cx="1142.0" cy="904.5" r="4.10" fill="url(#gp)"/>
<circle cx="1110.2" cy="808.5" r="4.10" fill="url(#gp)"/>
<circle cx="464.5" cy="879.8" r="3.60" fill="url(#gp)"/>
<circle cx="1175.0" cy="675.5" r="4.30" fill="url(#gt)"/>
<circle cx="291.9" cy="743.6" r="3.90" fill="url(#gt)"/>
<circle cx="256.4" cy="799.9" r="3.40" fill="url(#gt)"/>
<circle cx="721.6" cy="865.2" r="3.80" fill="url(#gp)"/>
<circle cx="503.3" cy="831.1" r="3.60" fill="url(#gp)"/>
<circle cx="670.2" cy="802.1" r="3.80" fill="url(#gp)"/>
<circle cx="239.6" cy="736.3" r="3.80" fill="url(#gp)"/>
<circle cx="120.2" cy="807.1" r="4.10" fill="url(#gt)"/>
<circle cx="884.3" cy="795.1" r="3.40" fill="url(#gp)"/>
<circle cx="985.8" cy="783.5" r="3.90" fill="url(#gt)"/>
<circle cx="901.8" cy="673.0" r="3.80" fill="url(#gp)"/>
<circle cx="695.2" cy="827.7" r="3.80" fill="url(#gp)"/>
<circle cx="41.1" cy="804.9" r="4.00" fill="url(#gp)"/>
<circle cx="869.4" cy="663.6" r="3.90" fill="url(#gt)"/>
<circle cx="193.0" cy="890.6" r="4.10" fill="url(#gt)"/>
<circle cx="586.9" cy="773.6" r="4.10" fill="url(#gp)"/>
<circle cx="467.4" cy="892.0" r="3.60" fill="url(#gp)"/>
<circle cx="354.5" cy="802.8" r="3.90" fill="url(#gt)"/>
<circle cx="295.0" cy="805.4" r="3.40" fill="url(#gt)"/>
<circle cx="262.0" cy="721.6" r="3.90" fill="url(#gt)"/>
<circle cx="429.4" cy="713.4" r="4.10" fill="url(#gp)"/>
<circle cx="1187.8" cy="673.8" r="4.10" fill="url(#gp)"/>
<circle cx="588.8" cy="763.3" r="4.10" fill="url(#gp)"/>
<circle cx="1159.4" cy="657.3" r="4.10" fill="url(#gp)"/>
<circle cx="923.0" cy="736.4" r="3.90" fill="url(#gt)"/>
<circle cx="576.5" cy="790.2" r="4.10" fill="url(#gt)"/>
<circle cx="256.7" cy="736.2" r="3.90" fill="url(#gt)"/>
<circle cx="981.5" cy="768.3" r="3.80" fill="url(#gp)"/>
<circle cx="584.5" cy="836.3" r="4.10" fill="url(#gp)"/>
<circle cx="756.4" cy="862.0" r="4.00" fill="url(#gt)"/>
<circle cx="742.4" cy="864.0" r="4.00" fill="url(#gt)"/>
<circle cx="462.5" cy="671.2" r="4.10" fill="url(#gp)"/>
<circle cx="250.3" cy="873.3" r="3.90" fill="url(#gt)"/>
<circle cx="155.1" cy="909.9" r="4.00" fill="url(#gp)"/>
<circle cx="239.6" cy="765.3" r="3.90" fill="url(#gt)"/>
<circle cx="581.9" cy="878.1" r="4.10" fill="url(#gp)"/>
<circle cx="37.0" cy="809.8" r="4.10" fill="url(#gt)"/>
<circle cx="247.4" cy="737.9" r="3.80" fill="url(#gp)"/>
<circle cx="1077.6" cy="803.9" r="4.10" fill="url(#gp)"/>
<circle cx="691.3" cy="874.2" r="4.00" fill="url(#gt)"/>
<circle cx="52.5" cy="846.4" r="4.00" fill="url(#gp)"/>
<circle cx="135.8" cy="822.3" r="4.10" fill="url(#gt)"/>
<circle cx="493.6" cy="661.9" r="4.10" fill="url(#gp)"/>
<circle cx="434.6" cy="851.1" r="3.60" fill="url(#gp)"/>
<circle cx="347.8" cy="781.7" r="3.80" fill="url(#gp)"/>
<circle cx="912.7" cy="861.1" r="3.80" fill="url(#gp)"/>
<circle cx="60.7" cy="894.7" r="4.10" fill="url(#gt)"/>
<circle cx="479.9" cy="870.5" r="3.60" fill="url(#gp)"/>
<circle cx="93.8" cy="903.0" r="4.00" fill="url(#gp)"/>
<circle cx="1202.8" cy="777.8" r="4.30" fill="url(#gt)"/>
<circle cx="1112.2" cy="659.3" r="4.30" fill="url(#gt)"/>
<circle cx="290.6" cy="795.4" r="3.80" fill="url(#gp)"/>
<circle cx="244.0" cy="745.1" r="3.80" fill="url(#gp)"/>
<circle cx="953.3" cy="744.5" r="3.90" fill="url(#gt)"/>
<circle cx="952.1" cy="852.1" r="3.90" fill="url(#gt)"/>
<circle cx="31.3" cy="822.0" r="4.10" fill="url(#gt)"/>
<circle cx="880.7" cy="701.5" r="3.80" fill="url(#gp)"/>
<circle cx="1185.3" cy="882.7" r="4.10" fill="url(#gp)"/>
<circle cx="1048.1" cy="709.7" r="4.30" fill="url(#gt)"/>
<circle cx="702.9" cy="856.1" r="3.80" fill="url(#gp)"/>
<circle cx="564.2" cy="809.7" r="4.10" fill="url(#gp)"/>
<circle cx="86.8" cy="907.8" r="4.10" fill="url(#gt)"/>
<circle cx="238.3" cy="677.6" r="3.80" fill="url(#gp)"/>
<circle cx="977.1" cy="764.5" r="3.90" fill="url(#gt)"/>
<circle cx="1100.9" cy="791.7" r="4.20" fill="url(#gt)"/>
<circle cx="275.3" cy="748.9" r="3.80" fill="url(#gp)"/>
<circle cx="240.5" cy="752.4" r="3.80" fill="url(#gp)"/>
<circle cx="508.2" cy="843.0" r="3.60" fill="url(#gp)"/>
<circle cx="41.8" cy="866.0" r="4.00" fill="url(#gp)"/>
<circle cx="63.9" cy="888.9" r="4.00" fill="url(#gp)"/>
<circle cx="461.6" cy="867.7" r="3.60" fill="url(#gp)"/>
<circle cx="898.0" cy="699.6" r="3.80" fill="url(#gp)"/>
<circle cx="733.8" cy="854.6" r="3.80" fill="url(#gp)"/>
<circle cx="851.4" cy="778.5" r="3.90" fill="url(#gt)"/>
<circle cx="57.8" cy="790.2" r="4.10" fill="url(#gt)"/>
<circle cx="1217.5" cy="728.7" r="4.10" fill="url(#gp)"/>
<circle cx="268.5" cy="793.2" r="3.70" fill="url(#gp)"/>
<circle cx="240.4" cy="800.4" r="3.70" fill="url(#gt)"/>
<circle cx="585.4" cy="784.0" r="4.10" fill="url(#gp)"/>
<circle cx="114.9" cy="914.3" r="4.10" fill="url(#gt)"/>
<circle cx="41.1" cy="874.3" r="4.10" fill="url(#gt)"/>
<circle cx="533.3" cy="812.3" r="4.20" fill="url(#gt)"/>
<circle cx="970.9" cy="811.5" r="4.30" fill="url(#gt)"/>
<circle cx="861.0" cy="694.4" r="3.90" fill="url(#gt)"/>
<circle cx="271.9" cy="690.2" r="3.90" fill="url(#gt)"/>
<circle cx="1079.0" cy="831.8" r="3.90" fill="url(#gp)"/>
<circle cx="963.7" cy="797.7" r="4.20" fill="url(#gp)"/>
<circle cx="307.5" cy="872.1" r="3.80" fill="url(#gp)"/>
<circle cx="230.3" cy="867.1" r="3.90" fill="url(#gt)"/>
<circle cx="862.3" cy="785.9" r="3.50" fill="url(#gt)"/>
<circle cx="302.1" cy="745.9" r="3.90" fill="url(#gt)"/>
<circle cx="881.6" cy="737.5" r="3.80" fill="url(#gp)"/>
<circle cx="259.5" cy="728.8" r="3.90" fill="url(#gt)"/>
<circle cx="260.7" cy="874.0" r="3.90" fill="url(#gt)"/>
<circle cx="1055.0" cy="795.6" r="4.10" fill="url(#gp)"/>
<circle cx="882.0" cy="726.3" r="3.80" fill="url(#gp)"/>
<circle cx="1101.2" cy="820.3" r="4.10" fill="url(#gt)"/>
<circle cx="73.8" cy="901.7" r="4.10" fill="url(#gt)"/>
<circle cx="584.5" cy="794.4" r="4.10" fill="url(#gp)"/>
<circle cx="498.0" cy="851.6" r="3.80" fill="url(#gt)"/>
<circle cx="426.4" cy="746.1" r="4.10" fill="url(#gp)"/>
<circle cx="1045.8" cy="731.5" r="4.30" fill="url(#gt)"/>
<circle cx="1173.9" cy="806.8" r="4.10" fill="url(#gp)"/>
<circle cx="430.2" cy="794.5" r="4.00" fill="url(#gp)"/>
<circle cx="920.7" cy="795.1" r="3.40" fill="url(#gp)"/>
<circle cx="666.2" cy="815.9" r="3.80" fill="url(#gp)"/>
<circle cx="1210.8" cy="876.3" r="4.10" fill="url(#gp)"/>
<circle cx="67.7" cy="903.0" r="4.00" fill="url(#gp)"/>
<circle cx="1075.1" cy="838.8" r="4.10" fill="url(#gt)"/>
<circle cx="254.4" cy="660.7" r="3.80" fill="url(#gp)"/>
<circle cx="241.0" cy="671.9" r="3.80" fill="url(#gp)"/>
<circle cx="702.3" cy="774.4" r="3.80" fill="url(#gp)"/>
<circle cx="873.1" cy="743.8" r="3.90" fill="url(#gt)"/>
<circle cx="475.7" cy="815.5" r="3.60" fill="url(#gp)"/>
<circle cx="289.0" cy="808.1" r="4.00" fill="url(#gt)"/>
<circle cx="446.1" cy="842.7" r="3.60" fill="url(#gp)"/>
<circle cx="691.3" cy="880.3" r="3.80" fill="url(#gp)"/>
<circle cx="426.9" cy="797.4" r="4.10" fill="url(#gp)"/>
<circle cx="331.2" cy="858.0" r="3.90" fill="url(#gt)"/>
<circle cx="888.4" cy="651.7" r="3.90" fill="url(#gt)"/>
<circle cx="579.6" cy="882.7" r="4.10" fill="url(#gp)"/>
<circle cx="264.6" cy="749.8" r="3.80" fill="url(#gp)"/>
<circle cx="1065.1" cy="800.6" r="4.10" fill="url(#gp)"/>
<circle cx="579.5" cy="774.1" r="4.10" fill="url(#gp)"/>
<circle cx="1098.4" cy="804.0" r="4.20" fill="url(#gt)"/>
<circle cx="105.5" cy="852.0" r="4.00" fill="url(#gp)"/>
<circle cx="760.0" cy="841.0" r="4.00" fill="url(#gt)"/>
<circle cx="880.0" cy="709.5" r="3.80" fill="url(#gp)"/>
<circle cx="857.7" cy="786.9" r="3.30" fill="url(#gp)"/>
<circle cx="942.4" cy="856.2" r="3.90" fill="url(#gt)"/>
<circle cx="150.8" cy="821.2" r="4.00" fill="url(#gp)"/>
<circle cx="1119.3" cy="831.8" r="4.10" fill="url(#gp)"/>
<circle cx="1208.1" cy="845.6" r="4.10" fill="url(#gp)"/>
<circle cx="316.3" cy="756.1" r="3.80" fill="url(#gp)"/>
<circle cx="105.0" cy="889.5" r="4.00" fill="url(#gp)"/>
<circle cx="766.0" cy="787.7" r="4.00" fill="url(#gt)"/>
<circle cx="844.4" cy="848.6" r="3.80" fill="url(#gp)"/>
<circle cx="472.1" cy="665.9" r="4.10" fill="url(#gp)"/>
<circle cx="1217.7" cy="742.7" r="4.30" fill="url(#gt)"/>
<circle cx="1194.7" cy="790.7" r="4.10" fill="url(#gp)"/>
<circle cx="144.0" cy="865.3" r="4.00" fill="url(#gp)"/>
<circle cx="482.4" cy="882.8" r="3.60" fill="url(#gp)"/>
<circle cx="452.8" cy="879.6" r="3.60" fill="url(#gp)"/>
<circle cx="583.9" cy="804.9" r="4.10" fill="url(#gp)"/>
<circle cx="1130.3" cy="818.9" r="4.30" fill="url(#gt)"/>
<circle cx="722.3" cy="835.0" r="4.00" fill="url(#gt)"/>
<circle cx="245.0" cy="744.7" r="3.80" fill="url(#gp)"/>
<circle cx="212.5" cy="855.9" r="3.90" fill="url(#gt)"/>
<circle cx="1216.5" cy="719.7" r="4.10" fill="url(#gp)"/>
<circle cx="1073.6" cy="826.4" r="4.10" fill="url(#gt)"/>
<circle cx="711.3" cy="804.2" r="4.00" fill="url(#gt)"/>
<circle cx="1211.9" cy="737.2" r="4.30" fill="url(#gt)"/>
<circle cx="481.2" cy="877.7" r="3.80" fill="url(#gt)"/>
<circle cx="430.6" cy="800.8" r="4.10" fill="url(#gp)"/>
<circle cx="943.2" cy="798.7" r="4.10" fill="url(#gt)"/>
<circle cx="663.0" cy="811.9" r="4.00" fill="url(#gt)"/>
<circle cx="886.4" cy="782.3" r="3.60" fill="url(#gp)"/>
<circle cx="1079.4" cy="844.3" r="3.90" fill="url(#gp)"/>
<circle cx="248.4" cy="727.5" r="3.90" fill="url(#gt)"/>
<circle cx="502.3" cy="913.6" r="3.60" fill="url(#gp)"/>
<circle cx="985.5" cy="799.2" r="3.80" fill="url(#gp)"/>
<circle cx="962.5" cy="749.6" r="3.90" fill="url(#gt)"/>
<circle cx="942.7" cy="791.5" r="4.00" fill="url(#gp)"/>
<circle cx="536.5" cy="669.4" r="4.10" fill="url(#gp)"/>
<circle cx="932.5" cy="859.5" r="3.90" fill="url(#gt)"/>
<circle cx="433.6" cy="703.2" r="4.10" fill="url(#gp)"/>
<circle cx="140.3" cy="840.9" r="4.00" fill="url(#gp)"/>
<circle cx="1140.7" cy="911.1" r="4.20" fill="url(#gt)"/>
<circle cx="453.2" cy="819.1" r="4.20" fill="url(#gt)"/>
<circle cx="671.6" cy="853.2" r="4.00" fill="url(#gt)"/>
<circle cx="455.6" cy="862.9" r="3.80" fill="url(#gt)"/>
<circle cx="1105.8" cy="796.8" r="4.10" fill="url(#gp)"/>
<circle cx="244.9" cy="874.9" r="3.80" fill="url(#gp)"/>
<circle cx="524.5" cy="813.8" r="4.20" fill="url(#gt)"/>
<circle cx="354.6" cy="813.3" r="3.90" fill="url(#gt)"/>
<circle cx="438.7" cy="693.5" r="4.10" fill="url(#gp)"/>
<circle cx="335.2" cy="765.0" r="3.80" fill="url(#gp)"/>
<circle cx="893.0" cy="789.5" r="3.80" fill="url(#gt)"/>
<circle cx="585.1" cy="762.4" r="4.10" fill="url(#gp)"/>
<circle cx="130.9" cy="789.4" r="4.00" fill="url(#gp)"/>
<circle cx="1085.2" cy="804.7" r="4.10" fill="url(#gp)"/>
<circle cx="124.7" cy="909.9" r="4.00" fill="url(#gp)"/>
<circle cx="35.6" cy="850.1" r="4.00" fill="url(#gp)"/>
<circle cx="851.3" cy="851.7" r="3.90" fill="url(#gt)"/>
<circle cx="957.6" cy="796.6" r="4.10" fill="url(#gp)"/>
<circle cx="126.7" cy="820.8" r="4.00" fill="url(#gp)"/>
<circle cx="1180.6" cy="876.7" r="4.10" fill="url(#gp)"/>
<circle cx="1111.2" cy="868.1" r="3.90" fill="url(#gp)"/>
<circle cx="889.0" cy="689.2" r="3.90" fill="url(#gt)"/>
<circle cx="422.6" cy="792.0" r="4.00" fill="url(#gp)"/>
<circle cx="862.9" cy="677.0" r="3.90" fill="url(#gt)"/>
<circle cx="350.3" cy="782.3" r="3.90" fill="url(#gt)"/>
<circle cx="127.2" cy="881.2" r="4.10" fill="url(#gt)"/>
<circle cx="250.6" cy="730.5" r="3.80" fill="url(#gp)"/>
<circle cx="343.6" cy="815.9" r="4.20" fill="url(#gp)"/>
<circle cx="279.6" cy="793.8" r="3.80" fill="url(#gp)"/>
<circle cx="943.3" cy="853.6" r="3.80" fill="url(#gp)"/>
<circle cx="80.8" cy="907.0" r="4.00" fill="url(#gp)"/>
<circle cx="1052.1" cy="731.7" r="4.10" fill="url(#gp)"/>
<circle cx="338.6" cy="822.5" r="4.30" fill="url(#gt)"/>
<circle cx="482.7" cy="662.9" r="4.10" fill="url(#gp)"/>
<circle cx="984.2" cy="809.7" r="3.80" fill="url(#gp)"/>
<circle cx="976.3" cy="828.9" r="3.80" fill="url(#gp)"/>
<circle cx="667.6" cy="844.8" r="3.80" fill="url(#gp)"/>
<circle cx="550.6" cy="808.9" r="4.10" fill="url(#gp)"/>
<circle cx="961.4" cy="847.3" r="3.90" fill="url(#gt)"/>
<circle cx="1102.8" cy="859.9" r="3.90" fill="url(#gp)"/>
<circle cx="483.6" cy="817.2" r="3.80" fill="url(#gt)"/>
<circle cx="1145.8" cy="885.0" r="4.20" fill="url(#gt)"/>
<circle cx="262.6" cy="678.5" r="3.80" fill="url(#gp)"/>
<circle cx="1190.8" cy="690.7" r="4.30" fill="url(#gt)"/>
<circle cx="852.2" cy="855.6" r="3.80" fill="url(#gp)"/>
<circle cx="889.2" cy="721.6" r="3.80" fill="url(#gp)"/>
<circle cx="470.2" cy="813.7" r="4.10" fill="url(#gp)"/>
<circle cx="1085.7" cy="831.8" r="3.90" fill="url(#gp)"/>
<circle cx="902.1" cy="734.6" r="3.90" fill="url(#gt)"/>
<circle cx="926.3" cy="786.4" r="3.80" fill="url(#gp)"/>
<circle cx="343.1" cy="851.2" r="3.80" fill="url(#gp)"/>
<circle cx="93.9" cy="909.4" r="4.00" fill="url(#gp)"/>
<circle cx="354.4" cy="822.1" r="3.80" fill="url(#gp)"/>
<circle cx="1051.4" cy="699.2" r="4.30" fill="url(#gt)"/>
<circle cx="1213.2" cy="828.4" r="4.30" fill="url(#gt)"/>
<circle cx="260.1" cy="741.4" r="3.90" fill="url(#gt)"/>
<circle cx="1071.4" cy="673.6" r="4.30" fill="url(#gt)"/>
<circle cx="1114.6" cy="820.2" r="4.10" fill="url(#gp)"/>
<circle cx="428.7" cy="756.8" r="4.10" fill="url(#gp)"/>
<circle cx="1200.6" cy="886.7" r="4.10" fill="url(#gp)"/>
<circle cx="234.4" cy="692.7" r="3.80" fill="url(#gp)"/>
<circle cx="902.6" cy="662.6" r="3.80" fill="url(#gp)"/>
<circle cx="730.2" cy="899.2" r="3.80" fill="url(#gp)"/>
<circle cx="933.3" cy="856.8" r="3.80" fill="url(#gp)"/>
<circle cx="896.6" cy="782.8" r="3.60" fill="url(#gp)"/>
<circle cx="100.0" cy="798.9" r="4.10" fill="url(#gt)"/>
<circle cx="237.7" cy="794.9" r="3.50" fill="url(#gp)"/>
<circle cx="250.6" cy="661.5" r="3.80" fill="url(#gp)"/>
<circle cx="1050.4" cy="793.0" r="4.10" fill="url(#gp)"/>
<circle cx="221.3" cy="861.6" r="3.90" fill="url(#gt)"/>
<circle cx="204.4" cy="849.4" r="3.90" fill="url(#gt)"/>
<circle cx="1132.4" cy="866.9" r="4.10" fill="url(#gp)"/>
<circle cx="772.3" cy="809.8" r="3.80" fill="url(#gp)"/>
<circle cx="213.4" cy="796.3" r="3.80" fill="url(#gp)"/>
<circle cx="550.7" cy="807.6" r="4.20" fill="url(#gt)"/>
<circle cx="1212.3" cy="839.3" r="4.30" fill="url(#gt)"/>
<circle cx="866.9" cy="784.9" r="3.40" fill="url(#gp)"/>
<circle cx="276.3" cy="876.3" r="3.80" fill="url(#gp)"/>
<circle cx="730.9" cy="773.5" r="3.80" fill="url(#gp)"/>
<circle cx="559.3" cy="804.8" r="4.20" fill="url(#gt)"/>
<circle cx="345.4" cy="773.1" r="3.90" fill="url(#gt)"/>
<circle cx="247.4" cy="703.3" r="3.90" fill="url(#gt)"/>
<circle cx="857.7" cy="770.1" r="3.90" fill="url(#gt)"/>
<circle cx="57.5" cy="895.0" r="4.00" fill="url(#gp)"/>
<circle cx="716.5" cy="772.0" r="3.80" fill="url(#gp)"/>
<circle cx="911.8" cy="863.1" r="3.90" fill="url(#gt)"/>
<circle cx="1142.3" cy="873.0" r="4.20" fill="url(#gt)"/>
<circle cx="141.0" cy="858.0" r="4.00" fill="url(#gp)"/>
<circle cx="731.0" cy="820.5" r="3.80" fill="url(#gp)"/>
<circle cx="565.8" cy="809.0" r="4.10" fill="url(#gp)"/>
<circle cx="45.6" cy="838.9" r="4.00" fill="url(#gp)"/>
<circle cx="448.5" cy="839.1" r="3.80" fill="url(#gt)"/>
<circle cx="984.5" cy="778.4" r="3.80" fill="url(#gp)"/>
<circle cx="1094.3" cy="804.9" r="4.10" fill="url(#gp)"/>
<circle cx="880.1" cy="717.7" r="3.80" fill="url(#gp)"/>
<circle cx="583.8" cy="825.9" r="4.10" fill="url(#gp)"/>
<circle cx="714.9" cy="854.1" r="4.61" fill="url(#gp)"/>
<circle cx="1177.5" cy="866.7" r="4.10" fill="url(#gp)"/>
<circle cx="884.5" cy="678.5" r="3.80" fill="url(#gp)"/>
<circle cx="900.1" cy="650.4" r="3.80" fill="url(#gp)"/>
<circle cx="87.5" cy="889.0" r="4.00" fill="url(#gp)"/>
<circle cx="986.1" cy="814.7" r="3.90" fill="url(#gt)"/>
<circle cx="883.2" cy="685.8" r="3.80" fill="url(#gp)"/>
<circle cx="516.3" cy="918.4" r="3.60" fill="url(#gp)"/>
<circle cx="922.2" cy="861.7" r="3.90" fill="url(#gt)"/>
<circle cx="597.0" cy="739.0" r="4.10" fill="url(#gt)"/>
<circle cx="557.8" cy="888.6" r="4.10" fill="url(#gp)"/>
<circle cx="273.4" cy="684.8" r="3.90" fill="url(#gt)"/>
<circle cx="1197.1" cy="699.7" r="4.30" fill="url(#gt)"/>
<circle cx="1067.0" cy="781.0" r="4.30" fill="url(#gt)"/>
<circle cx="118.7" cy="786.9" r="4.10" fill="url(#gt)"/>
<circle cx="592.5" cy="759.5" r="4.10" fill="url(#gt)"/>
<circle cx="899.4" cy="692.5" r="3.80" fill="url(#gp)"/>
<circle cx="880.2" cy="734.6" r="3.90" fill="url(#gt)"/>
<circle cx="935.0" cy="788.4" r="3.90" fill="url(#gp)"/>
<circle cx="297.2" cy="802.1" r="3.40" fill="url(#gp)"/>
<circle cx="29.7" cy="849.0" r="4.10" fill="url(#gt)"/>
<circle cx="889.5" cy="731.6" r="3.80" fill="url(#gp)"/>
<circle cx="1154.2" cy="804.2" r="4.10" fill="url(#gp)"/>
<circle cx="1206.4" cy="823.7" r="4.10" fill="url(#gp)"/>
<circle cx="434.7" cy="813.5" r="4.20" fill="url(#gt)"/>
<circle cx="1114.3" cy="804.5" r="4.10" fill="url(#gp)"/>
<circle cx="1081.4" cy="856.6" r="3.90" fill="url(#gp)"/>
<circle cx="728.1" cy="866.1" r="4.00" fill="url(#gt)"/>
<circle cx="664.7" cy="840.4" r="4.00" fill="url(#gt)"/>
<circle cx="1102.7" cy="845.2" r="4.10" fill="url(#gt)"/>
<circle cx="525.5" cy="889.9" r="3.60" fill="url(#gp)"/>
<circle cx="1208.6" cy="881.1" r="4.10" fill="url(#gp)"/>
<circle cx="326.2" cy="759.6" r="3.80" fill="url(#gp)"/>
<circle cx="813.9" cy="890.1" r="3.80" fill="url(#gp)"/>
<circle cx="479.2" cy="813.8" r="4.10" fill="url(#gp)"/>
<circle cx="1132.6" cy="849.9" r="4.20" fill="url(#gt)"/>
<circle cx="448.4" cy="855.0" r="3.60" fill="url(#gp)"/>
<circle cx="987.6" cy="793.8" r="3.90" fill="url(#gt)"/>
<circle cx="865.9" cy="669.6" r="3.90" fill="url(#gt)"/>
<circle cx="814.9" cy="885.2" r="4.00" fill="url(#gt)"/>
<circle cx="699.3" cy="812.1" r="4.00" fill="url(#gt)"/>
<circle cx="726.2" cy="857.6" r="3.80" fill="url(#gp)"/>
<circle cx="1142.1" cy="897.9" r="4.10" fill="url(#gp)"/>
<circle cx="732.1" cy="864.8" r="3.80" fill="url(#gp)"/>
<circle cx="567.6" cy="801.4" r="4.20" fill="url(#gt)"/>
<circle cx="1131.7" cy="915.7" r="4.10" fill="url(#gp)"/>
<circle cx="1114.6" cy="818.1" r="4.20" fill="url(#gt)"/>
<circle cx="1183.4" cy="682.5" r="4.30" fill="url(#gt)"/>
<circle cx="339.5" cy="851.6" r="3.90" fill="url(#gt)"/>
<circle cx="697.5" cy="839.9" r="4.00" fill="url(#gt)"/>
<circle cx="1101.2" cy="828.4" r="4.20" fill="url(#gt)"/>
<circle cx="982.6" cy="824.5" r="3.90" fill="url(#gt)"/>
<circle cx="486.8" cy="894.4" r="3.60" fill="url(#gp)"/>
<circle cx="1202.6" cy="879.4" r="4.30" fill="url(#gt)"/>
<circle cx="475.2" cy="846.0" r="3.60" fill="url(#gp)"/>
<circle cx="584.1" cy="759.1" r="4.10" fill="url(#gp)"/>
<circle cx="296.2" cy="750.3" r="3.80" fill="url(#gp)"/>
<circle cx="1207.6" cy="779.8" r="4.10" fill="url(#gp)"/>
<circle cx="1124.1" cy="904.6" r="4.20" fill="url(#gt)"/>
<circle cx="353.2" cy="792.4" r="3.90" fill="url(#gt)"/>
<circle cx="1139.6" cy="890.5" r="4.10" fill="url(#gp)"/>
<circle cx="890.9" cy="682.3" r="3.90" fill="url(#gt)"/>
<circle cx="1054.5" cy="763.0" r="4.30" fill="url(#gt)"/>
<circle cx="825.9" cy="882.0" r="3.80" fill="url(#gp)"/>
<circle cx="269.9" cy="695.7" r="3.90" fill="url(#gt)"/>
<circle cx="476.6" cy="806.9" r="3.80" fill="url(#gt)"/>
<circle cx="302.5" cy="870.6" r="3.90" fill="url(#gt)"/>
<circle cx="249.8" cy="801.5" r="3.80" fill="url(#gt)"/>
<circle cx="576.7" cy="705.8" r="4.10" fill="url(#gp)"/>
<circle cx="152.1" cy="840.5" r="4.00" fill="url(#gp)"/>
<circle cx="754.9" cy="778.4" r="4.00" fill="url(#gt)"/>
<circle cx="1179.0" cy="667.3" r="4.10" fill="url(#gp)"/>
<circle cx="1080.6" cy="667.5" r="4.30" fill="url(#gt)"/>
<circle cx="860.2" cy="857.2" r="3.90" fill="url(#gt)"/>
<circle cx="122.7" cy="885.8" r="4.00" fill="url(#gp)"/>
<circle cx="506.2" cy="813.8" r="4.10" fill="url(#gp)"/>
<circle cx="1180.7" cy="870.7" r="4.30" fill="url(#gt)"/>
<circle cx="1206.3" cy="790.7" r="4.10" fill="url(#gp)"/>
<circle cx="862.3" cy="703.3" r="3.90" fill="url(#gt)"/>
<circle cx="513.2" cy="899.1" r="3.80" fill="url(#gt)"/>
<circle cx="1208.8" cy="729.8" r="4.30" fill="url(#gt)"/>
<circle cx="509.5" cy="916.8" r="3.60" fill="url(#gp)"/>
<circle cx="888.1" cy="660.0" r="3.80" fill="url(#gp)"/>
<circle cx="758.6" cy="826.7" r="4.00" fill="url(#gt)"/>
<circle cx="1098.4" cy="848.3" r="3.90" fill="url(#gp)"/>
<circle cx="68.2" cy="853.8" r="4.10" fill="url(#gt)"/>
<circle cx="51.2" cy="878.2" r="4.00" fill="url(#gp)"/>
<circle cx="148.1" cy="858.8" r="4.00" fill="url(#gp)"/>
<circle cx="477.4" cy="803.1" r="3.60" fill="url(#gp)"/>
<circle cx="503.5" cy="831.4" r="3.60" fill="url(#gp)"/>
<circle cx="442.2" cy="798.9" r="4.00" fill="url(#gp)"/>
<circle cx="1052.9" cy="753.7" r="4.10" fill="url(#gp)"/>
<circle cx="1141.0" cy="910.7" r="4.10" fill="url(#gp)"/>
<circle cx="1165.4" cy="670.1" r="4.30" fill="url(#gt)"/>
<circle cx="271.2" cy="874.0" r="3.90" fill="url(#gt)"/>
<circle cx="471.1" cy="821.0" r="4.20" fill="url(#gt)"/>
<circle cx="276.3" cy="801.5" r="3.40" fill="url(#gt)"/>
<circle cx="901.7" cy="794.6" r="3.40" fill="url(#gp)"/>
<circle cx="742.2" cy="771.5" r="4.00" fill="url(#gt)"/>
<circle cx="42.5" cy="852.0" r="4.00" fill="url(#gp)"/>
<circle cx="894.2" cy="657.0" r="3.90" fill="url(#gt)"/>
<circle cx="1073.9" cy="838.7" r="4.10" fill="url(#gt)"/>
<circle cx="891.1" cy="735.1" r="3.90" fill="url(#gt)"/>
<circle cx="583.5" cy="778.1" r="4.10" fill="url(#gt)"/>
<circle cx="529.7" cy="901.6" r="3.60" fill="url(#gp)"/>
<circle cx="309.4" cy="801.5" r="4.00" fill="url(#gp)"/>
<circle cx="885.3" cy="704.0" r="3.90" fill="url(#gt)"/>
<circle cx="227.7" cy="796.5" r="3.40" fill="url(#gp)"/>
<circle cx="118.2" cy="900.0" r="4.00" fill="url(#gp)"/>
<circle cx="259.1" cy="702.0" r="3.80" fill="url(#gp)"/>
<circle cx="554.7" cy="884.0" r="4.10" fill="url(#gp)"/>
<circle cx="868.3" cy="720.2" r="3.90" fill="url(#gt)"/>
<circle cx="93.9" cy="828.3" r="4.00" fill="url(#gp)"/>
<circle cx="244.5" cy="756.8" r="3.90" fill="url(#gt)"/>
<circle cx="1199.6" cy="781.9" r="4.10" fill="url(#gp)"/>
<circle cx="473.7" cy="853.9" r="3.80" fill="url(#gt)"/>
<circle cx="61.7" cy="807.1" r="4.10" fill="url(#gt)"/>
<circle cx="1211.0" cy="863.5" r="4.10" fill="url(#gp)"/>
<circle cx="576.3" cy="779.5" r="4.10" fill="url(#gp)"/>
<circle cx="1190.4" cy="886.0" r="4.10" fill="url(#gp)"/>
<circle cx="1205.0" cy="884.5" r="4.10" fill="url(#gp)"/>
<circle cx="267.8" cy="701.7" r="3.90" fill="url(#gt)"/>
<circle cx="148.9" cy="820.4" r="4.10" fill="url(#gt)"/>
<circle cx="1100.3" cy="820.4" r="4.30" fill="url(#gt)"/>
<circle cx="912.6" cy="735.1" r="3.90" fill="url(#gt)"/>
<circle cx="132.6" cy="794.3" r="4.10" fill="url(#gt)"/>
<circle cx="257.8" cy="708.8" r="3.80" fill="url(#gp)"/>
<circle cx="594.0" cy="738.0" r="4.10" fill="url(#gp)"/>
<circle cx="66.6" cy="825.2" r="4.00" fill="url(#gp)"/>
<circle cx="137.3" cy="874.2" r="4.00" fill="url(#gp)"/>
<circle cx="892.7" cy="714.1" r="3.80" fill="url(#gp)"/>
<circle cx="1104.4" cy="857.6" r="4.10" fill="url(#gt)"/>
<circle cx="694.3" cy="838.0" r="3.80" fill="url(#gp)"/>
<circle cx="1148.9" cy="654.0" r="4.10" fill="url(#gp)"/>
<circle cx="321.9" cy="752.9" r="3.90" fill="url(#gt)"/>
<circle cx="877.9" cy="726.8" r="3.90" fill="url(#gt)"/>
<circle cx="129.3" cy="914.8" r="4.10" fill="url(#gt)"/>
<circle cx="1211.5" cy="850.3" r="4.30" fill="url(#gt)"/>
<circle cx="667.7" cy="798.2" r="4.00" fill="url(#gt)"/>
<circle cx="576.8" cy="886.2" r="4.10" fill="url(#gp)"/>
<circle cx="253.4" cy="743.5" r="3.90" fill="url(#gt)"/>
<circle cx="1123.2" cy="659.3" r="4.30" fill="url(#gt)"/>
<circle cx="941.0" cy="737.9" r="3.80" fill="url(#gp)"/>
<circle cx="762.8" cy="849.1" r="3.80" fill="url(#gp)"/>
<circle cx="890.5" cy="650.6" r="3.80" fill="url(#gp)"/>
<circle cx="274.6" cy="667.6" r="3.90" fill="url(#gt)"/>
<circle cx="298.3" cy="810.3" r="4.00" fill="url(#gt)"/>
<circle cx="553.4" cy="876.6" r="4.10" fill="url(#gp)"/>
<circle cx="145.6" cy="850.6" r="4.10" fill="url(#gt)"/>
<circle cx="1181.5" cy="865.1" r="4.10" fill="url(#gt)"/>
<circle cx="533.1" cy="813.0" r="4.10" fill="url(#gp)"/>
<circle cx="961.9" cy="844.1" r="3.80" fill="url(#gp)"/>
<circle cx="541.9" cy="811.2" r="4.10" fill="url(#gp)"/>
<circle cx="923.0" cy="858.9" r="3.80" fill="url(#gp)"/>
<circle cx="437.4" cy="776.9" r="4.10" fill="url(#gp)"/>
<circle cx="1076.8" cy="851.2" r="4.10" fill="url(#gt)"/>
<circle cx="985.9" cy="788.8" r="3.80" fill="url(#gp)"/>
<circle cx="901.3" cy="863.7" r="3.90" fill="url(#gt)"/>
<circle cx="46.0" cy="799.2" r="4.10" fill="url(#gt)"/>
<circle cx="1091.4" cy="838.2" r="3.90" fill="url(#gp)"/>
<circle cx="430.0" cy="810.8" r="4.20" fill="url(#gt)"/>
<circle cx="421.5" cy="805.3" r="4.20" fill="url(#gt)"/>
<circle cx="721.5" cy="816.1" r="3.80" fill="url(#gp)"/>
<circle cx="469.4" cy="904.3" r="3.60" fill="url(#gp)"/>
<circle cx="943.6" cy="740.7" r="3.90" fill="url(#gt)"/>
<circle cx="1217.3" cy="795.6" r="4.30" fill="url(#gt)"/>
<circle cx="124.3" cy="874.9" r="4.10" fill="url(#gt)"/>
<circle cx="696.1" cy="848.4" r="3.80" fill="url(#gp)"/>
<circle cx="1164.2" cy="804.6" r="4.10" fill="url(#gp)"/>
<circle cx="1192.1" cy="885.8" r="4.30" fill="url(#gt)"/>
<circle cx="1055.0" cy="764.4" r="4.10" fill="url(#gp)"/>
<circle cx="256.0" cy="715.9" r="3.80" fill="url(#gp)"/>
<circle cx="773.2" cy="903.5" r="3.80" fill="url(#gp)"/>
<circle cx="981.4" cy="819.8" r="3.80" fill="url(#gp)"/>
<circle cx="582.4" cy="768.3" r="4.10" fill="url(#gp)"/>
<circle cx="156.7" cy="911.0" r="4.10" fill="url(#gt)"/>
<circle cx="739.3" cy="805.9" r="4.00" fill="url(#gt)"/>
<circle cx="256.4" cy="670.3" r="3.90" fill="url(#gt)"/>
<circle cx="270.1" cy="661.2" r="3.90" fill="url(#gt)"/>
<circle cx="515.2" cy="814.0" r="4.10" fill="url(#gp)"/>
<circle cx="1219.7" cy="762.7" r="4.30" fill="url(#gt)"/>
<circle cx="322.1" cy="818.1" r="4.20" fill="url(#gt)"/>
<circle cx="592.5" cy="753.5" r="4.10" fill="url(#gp)"/>
<circle cx="1195.9" cy="681.2" r="4.10" fill="url(#gp)"/>
<circle cx="595.5" cy="745.8" r="4.10" fill="url(#gt)"/>
<circle cx="1199.5" cy="882.8" r="4.30" fill="url(#gt)"/>
<circle cx="1198.2" cy="786.6" r="4.30" fill="url(#gt)"/>
<circle cx="143.2" cy="803.8" r="4.00" fill="url(#gp)"/>
<circle cx="1127.7" cy="838.4" r="4.20" fill="url(#gt)"/>
<circle cx="312.5" cy="867.4" r="3.90" fill="url(#gt)"/>
<circle cx="583.9" cy="872.6" r="4.10" fill="url(#gp)"/>
<circle cx="975.0" cy="813.0" r="4.30" fill="url(#gt)"/>
<circle cx="448.9" cy="832.4" r="3.60" fill="url(#gp)"/>
<circle cx="507.4" cy="842.9" r="3.60" fill="url(#gp)"/>
<circle cx="67.9" cy="813.4" r="4.00" fill="url(#gp)"/>
<circle cx="1207.5" cy="868.6" r="4.30" fill="url(#gt)"/>
<circle cx="483.3" cy="864.8" r="3.80" fill="url(#gt)"/>
<circle cx="97.9" cy="776.3" r="4.00" fill="url(#gp)"/>
<circle cx="1056.2" cy="689.4" r="4.30" fill="url(#gt)"/>
<circle cx="1195.6" cy="887.1" r="4.10" fill="url(#gp)"/>
<circle cx="74.1" cy="879.0" r="4.10" fill="url(#gt)"/>
<circle cx="259.4" cy="665.9" r="3.90" fill="url(#gt)"/>
<circle cx="109.4" cy="908.6" r="4.00" fill="url(#gp)"/>
<circle cx="181.5" cy="899.6" r="4.10" fill="url(#gt)"/>
<circle cx="561.7" cy="890.4" r="4.10" fill="url(#gp)"/>
<circle cx="1148.1" cy="903.3" r="4.20" fill="url(#gt)"/>
<circle cx="170.1" cy="907.8" r="4.00" fill="url(#gp)"/>
<circle cx="559.2" cy="806.5" r="4.10" fill="url(#gp)"/>
<circle cx="1196.0" cy="885.1" r="4.30" fill="url(#gt)"/>
<circle cx="680.5" cy="864.5" r="4.00" fill="url(#gt)"/>
<circle cx="875.2" cy="734.8" r="3.90" fill="url(#gt)"/>
<circle cx="875.1" cy="795.1" r="3.40" fill="url(#gp)"/>
<circle cx="300.5" cy="798.2" r="3.90" fill="url(#gp)"/>
<circle cx="889.2" cy="655.1" r="3.80" fill="url(#gp)"/>
<circle cx="184.0" cy="903.3" r="4.00" fill="url(#gp)"/>
<circle cx="436.5" cy="796.4" r="4.00" fill="url(#gp)"/>
<circle cx="716.7" cy="894.0" r="3.80" fill="url(#gp)"/>
<circle cx="914.0" cy="790.5" r="3.90" fill="url(#gt)"/>
<circle cx="434.5" cy="838.6" r="3.60" fill="url(#gp)"/>
<circle cx="1116.1" cy="653.5" r="4.10" fill="url(#gp)"/>
<circle cx="253.5" cy="675.6" r="3.90" fill="url(#gt)"/>
<circle cx="426.2" cy="735.1" r="4.10" fill="url(#gp)"/>
<circle cx="248.1" cy="806.5" r="3.40" fill="url(#gp)"/>
<circle cx="987.7" cy="804.3" r="3.90" fill="url(#gt)"/>
<circle cx="890.8" cy="863.7" r="3.90" fill="url(#gt)"/>
<circle cx="699.6" cy="770.6" r="4.00" fill="url(#gt)"/>
<circle cx="272.9" cy="664.0" r="3.90" fill="url(#gt)"/>
<circle cx="1063.0" cy="689.5" r="4.10" fill="url(#gp)"/>
<circle cx="327.0" cy="864.5" r="3.80" fill="url(#gp)"/>
<circle cx="959.1" cy="806.4" r="4.20" fill="url(#gt)"/>
<circle cx="895.7" cy="706.8" r="3.80" fill="url(#gp)"/>
<circle cx="1080.4" cy="863.1" r="4.10" fill="url(#gt)"/>
<circle cx="331.4" cy="812.0" r="4.10" fill="url(#gp)"/>
<circle cx="262.6" cy="662.2" r="3.90" fill="url(#gt)"/>
<circle cx="952.9" cy="849.5" r="3.80" fill="url(#gp)"/>
<circle cx="266.1" cy="708.1" r="3.90" fill="url(#gt)"/>
<circle cx="844.6" cy="786.5" r="3.90" fill="url(#gt)"/>
<circle cx="140.7" cy="911.0" r="4.00" fill="url(#gp)"/>
<circle cx="900.9" cy="679.2" r="3.80" fill="url(#gp)"/>
<circle cx="728.2" cy="767.8" r="4.00" fill="url(#gt)"/>
<circle cx="703.5" cy="882.0" r="4.00" fill="url(#gt)"/>
<circle cx="1134.1" cy="660.1" r="4.30" fill="url(#gt)"/>
<circle cx="1136.1" cy="878.8" r="4.10" fill="url(#gp)"/>
<circle cx="916.6" cy="784.9" r="3.70" fill="url(#gp)"/>
<circle cx="446.6" cy="826.7" r="3.80" fill="url(#gt)"/>
<circle cx="230.5" cy="769.9" r="3.80" fill="url(#gp)"/>
<circle cx="1202.6" cy="690.0" r="4.10" fill="url(#gp)"/>
<circle cx="489.1" cy="889.1" r="3.80" fill="url(#gt)"/>
<circle cx="1108.3" cy="869.5" r="4.10" fill="url(#gt)"/>
<circle cx="197.0" cy="893.9" r="4.00" fill="url(#gp)"/>
<circle cx="1099.7" cy="816.2" r="4.20" fill="url(#gt)"/>
<circle cx="497.2" cy="813.4" r="4.10" fill="url(#gp)"/>
<circle cx="234.7" cy="718.9" r="3.80" fill="url(#gp)"/>
<circle cx="477.3" cy="865.9" r="3.80" fill="url(#gt)"/>
<circle cx="47.5" cy="838.5" r="4.10" fill="url(#gt)"/>
<circle cx="1212.8" cy="709.4" r="4.10" fill="url(#gp)"/>
<circle cx="258.1" cy="793.2" r="3.70" fill="url(#gp)"/>
<circle cx="275.4" cy="675.7" r="3.90" fill="url(#gt)"/>
<circle cx="526.3" cy="665.4" r="4.10" fill="url(#gp)"/>
<circle cx="772.8" cy="824.2" r="3.80" fill="url(#gp)"/>
<circle cx="80.3" cy="776.8" r="4.00" fill="url(#gp)"/>
<circle cx="265.8" cy="876.5" r="3.80" fill="url(#gp)"/>
<circle cx="776.0" cy="841.6" r="4.00" fill="url(#gt)"/>
<circle cx="546.2" cy="674.6" r="4.10" fill="url(#gp)"/>
<circle cx="787.8" cy="895.0" r="4.00" fill="url(#gt)"/>
<circle cx="969.8" cy="841.1" r="3.90" fill="url(#gt)"/>
<circle cx="903.3" cy="790.0" r="3.80" fill="url(#gt)"/>
<circle cx="58.3" cy="869.6" r="4.10" fill="url(#gt)"/>
<circle cx="893.0" cy="795.1" r="3.40" fill="url(#gp)"/>
<circle cx="1209.9" cy="861.0" r="4.30" fill="url(#gt)"/>
<circle cx="461.2" cy="813.4" r="4.10" fill="url(#gp)"/>
<circle cx="470.6" cy="841.8" r="3.80" fill="url(#gt)"/>
<circle cx="887.2" cy="696.4" r="3.90" fill="url(#gt)"/>
<circle cx="513.1" cy="916.8" r="3.80" fill="url(#gt)"/>
<circle cx="143.2" cy="914.0" r="4.10" fill="url(#gt)"/>
<circle cx="236.4" cy="727.7" r="3.80" fill="url(#gp)"/>
<circle cx="1052.0" cy="742.7" r="4.10" fill="url(#gp)"/>
<circle cx="462.1" cy="820.4" r="4.20" fill="url(#gt)"/>
<circle cx="1138.1" cy="652.4" r="4.10" fill="url(#gp)"/>
<circle cx="498.0" cy="819.0" r="4.20" fill="url(#gt)"/>
<circle cx="758.7" cy="904.0" r="3.80" fill="url(#gp)"/>
<circle cx="425.6" cy="808.2" r="4.20" fill="url(#gt)"/>
<circle cx="563.1" cy="688.6" r="4.10" fill="url(#gp)"/>
<circle cx="440.0" cy="816.0" r="4.20" fill="url(#gt)"/>
<circle cx="1218.3" cy="784.7" r="4.30" fill="url(#gt)"/>
<circle cx="477.6" cy="858.3" r="3.60" fill="url(#gp)"/>
<circle cx="1218.9" cy="773.7" r="4.30" fill="url(#gt)"/>
<circle cx="801.8" cy="891.3" r="4.00" fill="url(#gt)"/>
<circle cx="1055.6" cy="710.0" r="4.10" fill="url(#gp)"/>
<circle cx="1159.6" cy="812.9" r="4.30" fill="url(#gt)"/>
<circle cx="251.3" cy="681.6" r="3.90" fill="url(#gt)"/>
<circle cx="965.2" cy="810.0" r="4.30" fill="url(#gt)"/>
<circle cx="880.8" cy="719.4" r="3.90" fill="url(#gt)"/>
<circle cx="55.9" cy="827.8" r="4.00" fill="url(#gp)"/>
<circle cx="865.0" cy="711.9" r="3.90" fill="url(#gt)"/>
<circle cx="1124.0" cy="843.3" r="4.10" fill="url(#gp)"/>
<circle cx="262.2" cy="683.5" r="3.80" fill="url(#gp)"/>
<circle cx="672.6" cy="858.3" r="3.80" fill="url(#gp)"/>
<circle cx="1145.0" cy="662.1" r="4.30" fill="url(#gt)"/>
<circle cx="247.1" cy="664.0" r="3.80" fill="url(#gp)"/>
<circle cx="661.8" cy="826.3" r="4.00" fill="url(#gt)"/>
<circle cx="48.9" cy="855.4" r="4.10" fill="url(#gt)"/>
<circle cx="275.5" cy="671.5" r="3.90" fill="url(#gt)"/>
<circle cx="286.8" cy="875.4" r="3.80" fill="url(#gp)"/>
<circle cx="1216.0" cy="806.6" r="4.30" fill="url(#gt)"/>
<circle cx="512.4" cy="854.8" r="3.60" fill="url(#gp)"/>
<circle cx="876.6" cy="782.8" r="3.50" fill="url(#gp)"/>
<circle cx="348.4" cy="842.2" r="3.80" fill="url(#gp)"/>
<circle cx="881.5" cy="864.8" r="3.80" fill="url(#gp)"/>
<circle cx="1059.9" cy="798.2" r="4.10" fill="url(#gp)"/>
<circle cx="78.8" cy="897.5" r="4.00" fill="url(#gp)"/>
<circle cx="219.3" cy="787.6" r="3.80" fill="url(#gp)"/>
<circle cx="434.6" cy="804.4" r="4.10" fill="url(#gp)"/>
<circle cx="297.2" cy="874.2" r="3.80" fill="url(#gp)"/>
<circle cx="843.1" cy="845.1" r="3.90" fill="url(#gt)"/>
<circle cx="565.7" cy="890.7" r="4.10" fill="url(#gp)"/>
<circle cx="872.5" cy="787.4" r="3.60" fill="url(#gt)"/>
<circle cx="212.3" cy="797.0" r="3.90" fill="url(#gt)"/>
<circle cx="1055.7" cy="810.3" r="4.30" fill="url(#gt)"/>
<circle cx="897.0" cy="648.0" r="3.80" fill="url(#gp)"/>
<circle cx="933.4" cy="738.2" r="3.90" fill="url(#gt)"/>
<circle cx="452.3" cy="812.2" r="4.10" fill="url(#gp)"/>
<circle cx="851.3" cy="774.9" r="3.80" fill="url(#gp)"/>
<circle cx="260.1" cy="666.0" r="3.80" fill="url(#gp)"/>
<circle cx="312.7" cy="810.3" r="3.40" fill="url(#gt)"/>
<circle cx="1145.9" cy="908.8" r="4.20" fill="url(#gt)"/>
<circle cx="970.5" cy="756.3" r="3.90" fill="url(#gt)"/>
<circle cx="317.5" cy="869.0" r="3.80" fill="url(#gp)"/>
<circle cx="457.8" cy="855.8" r="3.60" fill="url(#gp)"/>
<circle cx="1127.1" cy="652.2" r="4.10" fill="url(#gp)"/>
<circle cx="248.2" cy="695.5" r="3.90" fill="url(#gt)"/>
<circle cx="902.4" cy="862.8" r="3.80" fill="url(#gp)"/>
<circle cx="885.4" cy="729.3" r="3.80" fill="url(#gp)"/>
<circle cx="1183.9" cy="806.6" r="4.10" fill="url(#gp)"/>
<circle cx="149.2" cy="835.1" r="4.10" fill="url(#gt)"/>
<circle cx="233.7" cy="774.0" r="3.90" fill="url(#gt)"/>
<circle cx="1185.1" cy="881.6" r="4.30" fill="url(#gt)"/>
<circle cx="571.1" cy="789.2" r="4.10" fill="url(#gp)"/>
<circle cx="314.9" cy="814.8" r="4.10" fill="url(#gt)"/>
<circle cx="1205.3" cy="874.7" r="4.30" fill="url(#gt)"/>
<circle cx="1209.1" cy="768.9" r="4.10" fill="url(#gp)"/>
<circle cx="585.1" cy="846.8" r="4.10" fill="url(#gp)"/>
<circle cx="262.4" cy="673.9" r="3.80" fill="url(#gp)"/>
<circle cx="253.5" cy="723.1" r="3.80" fill="url(#gp)"/>
<circle cx="573.4" cy="888.7" r="4.10" fill="url(#gp)"/>
<circle cx="711.1" cy="815.4" r="3.80" fill="url(#gp)"/>
<circle cx="1191.6" cy="885.7" r="4.10" fill="url(#gt)"/>
<circle cx="581.3" cy="769.8" r="4.10" fill="url(#gp)"/>
<circle cx="523.1" cy="917.7" r="3.60" fill="url(#gp)"/>
<circle cx="895.2" cy="661.0" r="3.90" fill="url(#gt)"/>
<circle cx="324.8" cy="809.2" r="4.10" fill="url(#gp)"/>
<circle cx="1182.5" cy="852.6" r="4.10" fill="url(#gt)"/>
<circle cx="86.5" cy="782.9" r="4.10" fill="url(#gt)"/>
<circle cx="837.1" cy="836.5" r="3.90" fill="url(#gt)"/>
<circle cx="38.7" cy="862.0" r="4.00" fill="url(#gp)"/>
<circle cx="1101.2" cy="660.3" r="4.30" fill="url(#gt)"/>
<circle cx="103.2" cy="783.3" r="4.10" fill="url(#gt)"/>
<circle cx="441.5" cy="831.1" r="3.60" fill="url(#gp)"/>
<circle cx="871.0" cy="864.4" r="3.80" fill="url(#gp)"/>
<circle cx="1169.4" cy="661.8" r="4.10" fill="url(#gp)"/>
<circle cx="881.7" cy="693.6" r="3.80" fill="url(#gp)"/>
<circle cx="719.1" cy="857.6" r="4.09" fill="url(#gp)"/>
<circle cx="1046.3" cy="720.6" r="4.30" fill="url(#gt)"/>
<circle cx="857.6" cy="766.5" r="3.80" fill="url(#gp)"/>
<circle cx="473.1" cy="795.1" r="3.80" fill="url(#gt)"/>
<circle cx="894.7" cy="665.4" r="3.90" fill="url(#gt)"/>
<circle cx="1208.4" cy="764.0" r="4.10" fill="url(#gp)"/>
<circle cx="47.7" cy="885.7" r="4.00" fill="url(#gp)"/>
<circle cx="247.2" cy="711.3" r="3.90" fill="url(#gt)"/>
<circle cx="884.5" cy="651.1" r="3.90" fill="url(#gt)"/>
<circle cx="770.4" cy="838.5" r="3.80" fill="url(#gp)"/>
<circle cx="870.0" cy="753.1" r="3.90" fill="url(#gt)"/>
<circle cx="1188.4" cy="884.4" r="4.30" fill="url(#gt)"/>
<circle cx="1144.2" cy="804.2" r="4.10" fill="url(#gp)"/>
<circle cx="585.1" cy="865.6" r="4.10" fill="url(#gp)"/>
<circle cx="678.3" cy="790.1" r="3.80" fill="url(#gp)"/>
<circle cx="1210.6" cy="758.0" r="4.10" fill="url(#gp)"/>
<circle cx="1123.5" cy="826.7" r="4.20" fill="url(#gt)"/>
<circle cx="50.9" cy="884.9" r="4.10" fill="url(#gt)"/>
<circle cx="1060.1" cy="774.2" r="4.10" fill="url(#gp)"/>
<circle cx="714.1" cy="862.6" r="4.00" fill="url(#gt)"/>
<circle cx="598.8" cy="745.1" r="4.10" fill="url(#gp)"/>
<circle cx="758.9" cy="897.2" r="4.00" fill="url(#gt)"/>
<circle cx="1090.3" cy="820.1" r="4.30" fill="url(#gt)"/>
<circle cx="439.2" cy="807.7" r="4.10" fill="url(#gp)"/>
<circle cx="1149.9" cy="815.4" r="4.30" fill="url(#gt)"/>
<circle cx="1177.1" cy="866.0" r="3.90" fill="url(#gp)"/>
<circle cx="931.3" cy="733.9" r="3.80" fill="url(#gp)"/>
<circle cx="975.8" cy="759.6" r="3.80" fill="url(#gp)"/>
<circle cx="876.4" cy="655.0" r="3.90" fill="url(#gt)"/>
<circle cx="488.2" cy="813.7" r="4.10" fill="url(#gp)"/>
<circle cx="432.1" cy="767.3" r="4.10" fill="url(#gp)"/>
<circle cx="1169.0" cy="809.4" r="4.30" fill="url(#gt)"/>
<circle cx="1214.6" cy="817.5" r="4.30" fill="url(#gt)"/>
<circle cx="883.3" cy="711.8" r="3.90" fill="url(#gt)"/>
<circle cx="220.0" cy="789.9" r="3.90" fill="url(#gt)"/>
<circle cx="755.0" cy="854.5" r="4.00" fill="url(#gt)"/>
<circle cx="869.4" cy="749.2" r="3.80" fill="url(#gp)"/>
<circle cx="1147.8" cy="896.5" r="4.20" fill="url(#gt)"/>
<circle cx="871.9" cy="729.0" r="3.90" fill="url(#gt)"/>
<circle cx="1186.9" cy="803.0" r="4.30" fill="url(#gt)"/>
<circle cx="773.4" cy="896.9" r="4.00" fill="url(#gt)"/>
<circle cx="493.3" cy="905.1" r="3.60" fill="url(#gp)"/>
<circle cx="592.0" cy="744.2" r="4.10" fill="url(#gp)"/>
<circle cx="1208.3" cy="699.4" r="4.10" fill="url(#gp)"/>
<circle cx="270.2" cy="742.8" r="3.90" fill="url(#gt)"/>
<circle cx="585.3" cy="857.2" r="4.10" fill="url(#gp)"/>
<circle cx="1097.8" cy="796.1" r="4.10" fill="url(#gp)"/>
<circle cx="900.3" cy="685.6" r="3.80" fill="url(#gp)"/>
<circle cx="322.0" cy="863.2" r="3.90" fill="url(#gt)"/>
<circle cx="307.2" cy="812.5" r="4.10" fill="url(#gt)"/>
<circle cx="713.8" cy="848.2" r="4.84" fill="url(#gp)"/>
<circle cx="570.1" cy="697.0" r="4.10" fill="url(#gp)"/>
<circle cx="1212.0" cy="760.0" r="4.30" fill="url(#gt)"/>
<circle cx="234.0" cy="709.9" r="3.80" fill="url(#gp)"/>
<circle cx="82.8" cy="887.3" r="4.10" fill="url(#gt)"/>
<circle cx="713.7" cy="767.7" r="4.00" fill="url(#gt)"/>
<circle cx="701.5" cy="819.4" r="3.80" fill="url(#gp)"/>
<circle cx="249.3" cy="750.3" r="3.90" fill="url(#gt)"/>
<circle cx="136.3" cy="887.3" r="4.00" fill="url(#gp)"/>
<circle cx="100.7" cy="912.2" r="4.10" fill="url(#gt)"/>
<circle cx="583.2" cy="815.4" r="4.10" fill="url(#gp)"/>
<circle cx="1060.6" cy="813.5" r="4.30" fill="url(#gt)"/>
<circle cx="286.2" cy="803.7" r="3.40" fill="url(#gt)"/>
<circle cx="452.0" cy="851.0" r="3.80" fill="url(#gt)"/>
<circle cx="445.2" cy="684.6" r="4.10" fill="url(#gp)"/>
<circle cx="1068.9" cy="856.0" r="3.90" fill="url(#gp)"/>
<circle cx="766.8" cy="796.4" r="3.80" fill="url(#gp)"/>
<circle cx="960.5" cy="745.3" r="3.80" fill="url(#gp)"/>
<circle cx="590.0" cy="750.4" r="4.10" fill="url(#gp)"/>
<circle cx="91.0" cy="883.0" r="4.10" fill="url(#gt)"/>
<circle cx="968.8" cy="798.2" r="4.20" fill="url(#gp)"/>
<circle cx="864.1" cy="761.8" r="3.90" fill="url(#gt)"/>
<circle cx="740.4" cy="838.4" r="3.80" fill="url(#gp)"/>
<circle cx="108.4" cy="881.0" r="4.10" fill="url(#gt)"/>
<circle cx="274.6" cy="680.0" r="3.90" fill="url(#gt)"/>
<circle cx="446.0" cy="818.1" r="4.20" fill="url(#gt)"/>
<circle cx="934.5" cy="795.1" r="4.00" fill="url(#gt)"/>
<circle cx="1110.5" cy="806.5" r="4.20" fill="url(#gt)"/>
<circle cx="581.7" cy="715.6" r="4.10" fill="url(#gp)"/>
<circle cx="71.3" cy="784.8" r="4.10" fill="url(#gt)"/>
<circle cx="1120.9" cy="910.7" r="4.10" fill="url(#gp)"/>
<circle cx="489.1" cy="820.1" r="4.20" fill="url(#gt)"/>
<circle cx="64.5" cy="782.4" r="4.00" fill="url(#gp)"/>
<circle cx="1202.4" cy="709.3" r="4.30" fill="url(#gt)"/>
<circle cx="107.6" cy="808.7" r="4.00" fill="url(#gp)"/>
<circle cx="481.2" cy="852.5" r="3.80" fill="url(#gt)"/>
<circle cx="1073.6" cy="826.4" r="4.10" fill="url(#gt)"/>
<circle cx="1221.1" cy="734.5" r="4.10" fill="url(#gp)"/>
<circle cx="485.6" cy="877.1" r="3.80" fill="url(#gt)"/>
<circle cx="33.0" cy="835.1" r="4.00" fill="url(#gp)"/>
<circle cx="266.3" cy="659.6" r="3.90" fill="url(#gt)"/>
<circle cx="504.6" cy="662.2" r="4.10" fill="url(#gp)"/>
<circle cx="334.7" cy="821.9" r="4.30" fill="url(#gt)"/>
<circle cx="1192.7" cy="794.9" r="4.30" fill="url(#gt)"/>
<circle cx="1053.5" cy="720.8" r="4.10" fill="url(#gp)"/>
<circle cx="880.3" cy="652.3" r="3.90" fill="url(#gt)"/>
<circle cx="342.0" cy="773.0" r="3.80" fill="url(#gp)"/>
<circle cx="982.3" cy="773.6" r="3.90" fill="url(#gt)"/>
<circle cx="910.5" cy="732.4" r="3.80" fill="url(#gp)"/>
<circle cx="227.3" cy="782.3" r="3.90" fill="url(#gt)"/>
<circle cx="744.3" cy="902.6" r="3.80" fill="url(#gp)"/>
<circle cx="703.4" cy="888.2" r="3.80" fill="url(#gp)"/>
<circle cx="779.0" cy="813.1" r="4.00" fill="url(#gt)"/>
<circle cx="1116.6" cy="905.3" r="4.10" fill="url(#gp)"/>
<circle cx="893.1" cy="647.4" r="3.80" fill="url(#gp)"/>
<circle cx="240.0" cy="870.9" r="3.90" fill="url(#gt)"/>
<circle cx="902.0" cy="653.9" r="3.80" fill="url(#gp)"/>
<circle cx="1128.1" cy="855.2" r="4.10" fill="url(#gp)"/>
<circle cx="1095.1" cy="813.6" r="3.90" fill="url(#gp)"/>
<circle cx="453.3" cy="677.2" r="4.10" fill="url(#gp)"/>
<circle cx="1213.0" cy="748.0" r="4.10" fill="url(#gp)"/>
<circle cx="139.1" cy="864.5" r="4.10" fill="url(#gt)"/>
<circle cx="876.9" cy="745.1" r="3.80" fill="url(#gp)"/>
<circle cx="1126.0" cy="914.0" r="4.10" fill="url(#gp)"/>
<circle cx="744.5" cy="778.4" r="3.80" fill="url(#gp)"/>
<circle cx="515.6" cy="815.6" r="4.20" fill="url(#gt)"/>
<circle cx="756.9" cy="785.9" r="3.80" fill="url(#gp)"/>
<circle cx="686.4" cy="776.6" r="4.00" fill="url(#gt)"/>
<circle cx="680.8" cy="870.3" r="3.80" fill="url(#gp)"/>
<circle cx="566.6" cy="803.9" r="4.10" fill="url(#gp)"/>
<circle cx="1058.4" cy="699.4" r="4.10" fill="url(#gp)"/>
<circle cx="460.3" cy="874.5" r="3.80" fill="url(#gt)"/>
<circle cx="567.6" cy="800.2" r="4.10" fill="url(#gp)"/>
<circle cx="1119.3" cy="897.8" r="4.20" fill="url(#gt)"/>
<circle cx="1216.9" cy="740.5" r="4.10" fill="url(#gp)"/>
<circle cx="893.9" cy="670.3" r="3.90" fill="url(#gt)"/>
<circle cx="1049.9" cy="753.0" r="4.30" fill="url(#gt)"/>
<circle cx="445.0" cy="810.2" r="4.10" fill="url(#gp)"/>
<circle cx="870.1" cy="860.7" r="3.90" fill="url(#gt)"/>
<circle cx="259.2" cy="803.7" r="3.80" fill="url(#gt)"/>
<circle cx="352.0" cy="832.3" r="3.80" fill="url(#gp)"/>
<circle cx="456.4" cy="891.5" r="3.60" fill="url(#gp)"/>
<circle cx="252.4" cy="735.4" r="3.90" fill="url(#gt)"/>
<circle cx="50.1" cy="821.3" r="4.10" fill="url(#gt)"/>
<circle cx="58.0" cy="863.2" r="4.00" fill="url(#gp)"/>
<circle cx="1137.8" cy="861.3" r="4.20" fill="url(#gt)"/>
<circle cx="247.3" cy="719.3" r="3.90" fill="url(#gt)"/>
<circle cx="480.6" cy="791.1" r="3.60" fill="url(#gp)"/>
<circle cx="665.9" cy="830.4" r="3.80" fill="url(#gp)"/>
<circle cx="1206.5" cy="719.5" r="4.30" fill="url(#gt)"/>
<circle cx="969.6" cy="837.0" r="3.80" fill="url(#gp)"/>
<circle cx="580.2" cy="784.3" r="4.10" fill="url(#gt)"/>
<circle cx="524.1" cy="813.8" r="4.10" fill="url(#gp)"/>
<circle cx="1044.7" cy="799.3" r="4.30" fill="url(#gt)"/>
<circle cx="1090.6" cy="663.0" r="4.30" fill="url(#gt)"/>
<circle cx="921.0" cy="732.5" r="3.80" fill="url(#gp)"/>
<circle cx="565.6" cy="810.3" r="4.10" fill="url(#gp)"/>
<circle cx="1204.3" cy="773.1" r="4.10" fill="url(#gp)"/>
<circle cx="1048.1" cy="802.9" r="4.30" fill="url(#gt)"/>
<circle cx="968.9" cy="751.6" r="3.80" fill="url(#gp)"/>
<circle cx="711.8" cy="861.8" r="3.80" fill="url(#gp)"/>
<circle cx="507.0" cy="874.9" r="3.80" fill="url(#gt)"/>
<circle cx="445.3" cy="784.4" r="4.10" fill="url(#gp)"/>
<circle cx="1209.7" cy="855.7" r="4.10" fill="url(#gp)"/>
<circle cx="1182.6" cy="877.3" r="4.30" fill="url(#gt)"/>
<circle cx="106.0" cy="889.6" r="4.10" fill="url(#gt)"/>
<circle cx="1046.9" cy="742.5" r="4.30" fill="url(#gt)"/>
<circle cx="566.0" cy="798.9" r="4.10" fill="url(#gp)"/>
<circle cx="137.4" cy="864.5" r="4.10" fill="url(#gt)"/>
<circle cx="752.8" cy="856.3" r="3.80" fill="url(#gp)"/>
<circle cx="950.4" cy="794.6" r="4.00" fill="url(#gp)"/>
<circle cx="281.7" cy="873.7" r="3.90" fill="url(#gt)"/>
<circle cx="35.4" cy="819.6" r="4.00" fill="url(#gp)"/>
<circle cx="1060.0" cy="772.6" r="4.30" fill="url(#gt)"/>
<circle cx="880.4" cy="862.8" r="3.90" fill="url(#gt)"/>
<circle cx="28.9" cy="835.4" r="4.10" fill="url(#gt)"/>
<circle cx="866.4" cy="794.6" r="3.40" fill="url(#gp)"/>
<circle cx="594.0" cy="752.7" r="4.10" fill="url(#gt)"/>
<circle cx="730.3" cy="892.9" r="4.00" fill="url(#gt)"/>
<circle cx="1107.7" cy="794.3" r="4.20" fill="url(#gt)"/>
<circle cx="1211.3" cy="870.4" r="4.10" fill="url(#gp)"/>
<circle cx="350.1" cy="833.7" r="3.90" fill="url(#gt)"/>
<circle cx="872.9" cy="658.7" r="3.90" fill="url(#gt)"/>
<circle cx="217.3" cy="861.2" r="3.80" fill="url(#gp)"/>
<circle cx="353.2" cy="823.7" r="3.90" fill="url(#gt)"/>
<circle cx="1205.8" cy="801.7" r="4.10" fill="url(#gp)"/>
<circle cx="861.2" cy="685.4" r="3.90" fill="url(#gt)"/>
<circle cx="572.7" cy="796.1" r="4.10" fill="url(#gt)"/>
<circle cx="514.6" cy="910.1" r="3.80" fill="url(#gt)"/>
<circle cx="703.4" cy="853.1" r="4.00" fill="url(#gt)"/>
<circle cx="1077.0" cy="672.5" r="4.10" fill="url(#gp)"/>
<circle cx="774.5" cy="799.4" r="4.00" fill="url(#gt)"/>
<circle cx="493.2" cy="840.0" r="3.80" fill="url(#gt)"/>
<circle cx="951.0" cy="740.8" r="3.80" fill="url(#gp)"/>
<circle cx="243.9" cy="667.4" r="3.80" fill="url(#gp)"/>
<circle cx="266.3" cy="799.9" r="3.40" fill="url(#gt)"/>
<circle cx="695.5" cy="825.6" r="4.00" fill="url(#gt)"/>
<circle cx="269.1" cy="804.8" r="3.90" fill="url(#gt)"/>
<circle cx="489.4" cy="828.2" r="3.80" fill="url(#gt)"/>
<circle cx="1085.7" cy="665.9" r="4.10" fill="url(#gp)"/>
<circle cx="1140.1" cy="817.1" r="4.30" fill="url(#gt)"/>
<circle cx="33.8" cy="862.0" r="4.10" fill="url(#gt)"/>
<circle cx="739.3" cy="847.8" r="3.80" fill="url(#gp)"/>
<circle cx="50.9" cy="791.8" r="4.00" fill="url(#gp)"/>
<circle cx="689.3" cy="780.7" r="3.80" fill="url(#gp)"/>
<circle cx="892.6" cy="676.0" r="3.90" fill="url(#gt)"/>
<circle cx="510.4" cy="886.9" r="3.80" fill="url(#gt)"/>
<circle cx="737.8" cy="828.4" r="3.80" fill="url(#gp)"/>
<circle cx="1073.3" cy="818.1" r="4.30" fill="url(#gt)"/>
<circle cx="249.8" cy="688.3" r="3.90" fill="url(#gt)"/>
<circle cx="768.2" cy="853.8" r="4.00" fill="url(#gt)"/>
<circle cx="742.5" cy="861.5" r="3.80" fill="url(#gp)"/>
<circle cx="303.8" cy="807.6" r="3.40" fill="url(#gt)"/>
<circle cx="596.8" cy="741.4" r="4.30" fill="url(#gt)"/>
<circle cx="561.1" cy="676.0" r="4.30" fill="url(#gt)"/>
<circle cx="581.2" cy="878.4" r="4.30" fill="url(#gt)"/>
<circle cx="594.8" cy="730.7" r="4.30" fill="url(#gt)"/>
<circle cx="509.8" cy="657.9" r="4.30" fill="url(#gt)"/>
<circle cx="498.8" cy="658.1" r="4.30" fill="url(#gt)"/>
<circle cx="588.0" cy="817.7" r="4.30" fill="url(#gt)"/>
<circle cx="574.0" cy="885.1" r="4.30" fill="url(#gt)"/>
<circle cx="551.7" cy="670.3" r="4.30" fill="url(#gt)"/>
<circle cx="592.3" cy="762.9" r="4.30" fill="url(#gt)"/>
<circle cx="587.2" cy="828.7" r="4.30" fill="url(#gt)"/>
<circle cx="591.3" cy="773.9" r="4.30" fill="url(#gt)"/>
<circle cx="594.2" cy="752.1" r="4.30" fill="url(#gt)"/>
<circle cx="430.0" cy="705.1" r="4.30" fill="url(#gt)"/>
<circle cx="424.2" cy="758.9" r="4.30" fill="url(#gt)"/>
<circle cx="457.7" cy="671.8" r="4.30" fill="url(#gt)"/>
<circle cx="422.7" cy="737.0" r="4.30" fill="url(#gt)"/>
<circle cx="568.9" cy="885.6" r="4.30" fill="url(#gt)"/>
<circle cx="585.5" cy="850.6" r="4.30" fill="url(#gt)"/>
<circle cx="449.0" cy="678.5" r="4.30" fill="url(#gt)"/>
<circle cx="590.0" cy="784.8" r="4.30" fill="url(#gt)"/>
<circle cx="584.4" cy="867.4" r="4.30" fill="url(#gt)"/>
<circle cx="435.0" cy="695.3" r="4.30" fill="url(#gt)"/>
<circle cx="569.6" cy="682.9" r="4.30" fill="url(#gt)"/>
<circle cx="577.1" cy="691.0" r="4.30" fill="url(#gt)"/>
<circle cx="583.3" cy="873.4" r="4.30" fill="url(#gt)"/>
<circle cx="558.7" cy="865.1" r="4.30" fill="url(#gt)"/>
<circle cx="563.7" cy="882.8" r="4.30" fill="url(#gt)"/>
<circle cx="560.0" cy="876.0" r="4.30" fill="url(#gt)"/>
<circle cx="427.2" cy="769.5" r="4.30" fill="url(#gt)"/>
<circle cx="588.6" cy="806.7" r="4.30" fill="url(#gt)"/>
<circle cx="588.1" cy="709.8" r="4.30" fill="url(#gt)"/>
<circle cx="487.8" cy="659.0" r="4.30" fill="url(#gt)"/>
<circle cx="541.7" cy="665.7" r="4.30" fill="url(#gt)"/>
<circle cx="531.3" cy="662.2" r="4.30" fill="url(#gt)"/>
<circle cx="477.1" cy="661.6" r="4.30" fill="url(#gt)"/>
<circle cx="426.1" cy="715.4" r="4.30" fill="url(#gt)"/>
<circle cx="432.5" cy="779.1" r="4.30" fill="url(#gt)"/>
<circle cx="586.3" cy="839.6" r="4.30" fill="url(#gt)"/>
<circle cx="591.1" cy="720.4" r="4.30" fill="url(#gt)"/>
<circle cx="423.9" cy="726.1" r="4.30" fill="url(#gt)"/>
<circle cx="589.3" cy="795.8" r="4.30" fill="url(#gt)"/>
<circle cx="467.1" cy="666.0" r="4.30" fill="url(#gt)"/>
<circle cx="422.6" cy="748.0" r="4.30" fill="url(#gt)"/>
<circle cx="520.6" cy="659.5" r="4.30" fill="url(#gt)"/>
<circle cx="440.0" cy="787.1" r="4.30" fill="url(#gt)"/>
<circle cx="441.1" cy="686.2" r="4.30" fill="url(#gt)"/>
<circle cx="583.7" cy="699.8" r="4.30" fill="url(#gt)"/>
<circle cx="585.0" cy="859.9" r="4.30" fill="url(#gt)"/>
<circle cx="578.1" cy="882.3" r="4.30" fill="url(#gt)"/>
<circle cx="224.7" cy="962.5" r="8.2" fill="#6A3D9E"/>
<circle cx="224.7" cy="998.5" r="8.2" fill="#72C6CD"/>
<text x="241.5" y="969.5" font-family="Liberation Serif, Noto Serif CJK SC, serif" font-size="22" fill="#1a1a1a">bgPC1<tspan x="302.3" font-family="Noto Serif CJK SC, serif" font-weight="300" font-size="21" letter-spacing="1">最小值处形状</tspan></text>
<text x="241.5" y="1005" font-family="Liberation Serif, Noto Serif CJK SC, serif" font-size="22" fill="#1a1a1a">bgPC1<tspan x="302.3" font-family="Noto Serif CJK SC, serif" font-weight="300" font-size="21" letter-spacing="1">最大值处形状</tspan></text>
<circle cx="822.4" cy="961" r="8.2" fill="#6A3D9E"/>
<circle cx="822.4" cy="997.5" r="8.2" fill="#72C6CD"/>
<text x="839.5" y="968" font-family="Liberation Serif, Noto Serif CJK SC, serif" font-size="22" fill="#1a1a1a">bgPC2<tspan x="900.3" font-family="Noto Serif CJK SC, serif" font-weight="300" font-size="21" letter-spacing="1">最小值处形状</tspan></text>
<text x="839.5" y="1003.5" font-family="Liberation Serif, Noto Serif CJK SC, serif" font-size="22" fill="#1a1a1a">bgPC2<tspan x="900.3" font-family="Noto Serif CJK SC, serif" font-weight="300" font-size="21" letter-spacing="1">最大值处形状</tspan></text>
</svg>
</body></html>
